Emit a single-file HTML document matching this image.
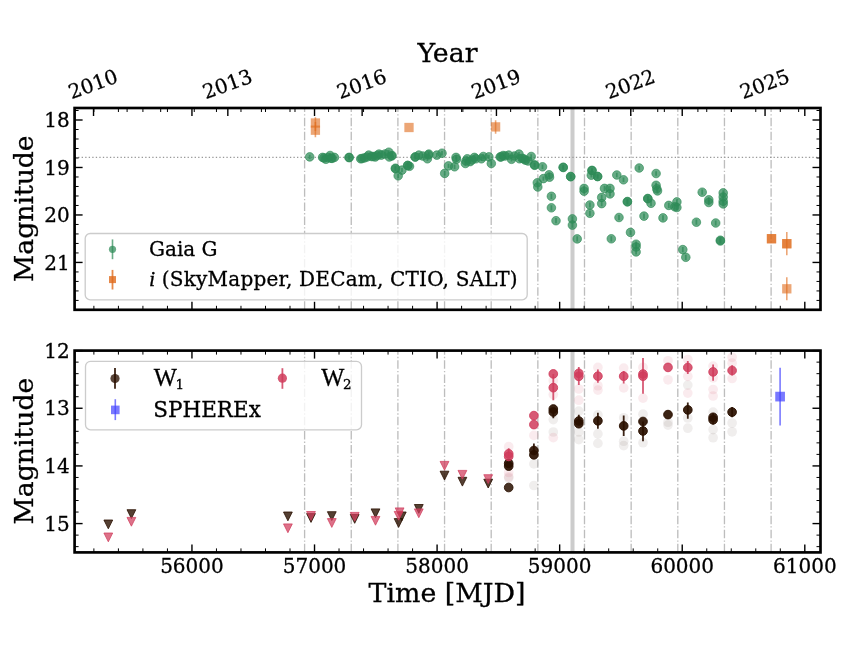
<!DOCTYPE html>
<html><head><meta charset="utf-8"><title>Light curve</title>
<style>html,body{margin:0;padding:0;background:#fff;}svg{display:block;will-change:transform;}text{stroke:#000;stroke-width:0.3px;}</style>
</head><body>
<svg width="850" height="650" viewBox="0 0 850 650">
<rect width="850" height="650" fill="#fff"/>
<clipPath id="ct"><rect x="74.6" y="108" width="745.9" height="201.8"/></clipPath>
<clipPath id="cb"><rect x="74.6" y="350.6" width="745.9" height="201.8"/></clipPath>
<g clip-path="url(#ct)">
<line x1="304.6" y1="309.8" x2="304.6" y2="108" stroke="#bdbdbd" stroke-width="1.33" stroke-dasharray="8.53 2.13 1.33 2.13"/>
<line x1="351.25" y1="309.8" x2="351.25" y2="108" stroke="#bdbdbd" stroke-width="1.33" stroke-dasharray="8.53 2.13 1.33 2.13"/>
<line x1="397.9" y1="309.8" x2="397.9" y2="108" stroke="#bdbdbd" stroke-width="1.33" stroke-dasharray="8.53 2.13 1.33 2.13"/>
<line x1="444.55" y1="309.8" x2="444.55" y2="108" stroke="#bdbdbd" stroke-width="1.33" stroke-dasharray="8.53 2.13 1.33 2.13"/>
<line x1="491.2" y1="309.8" x2="491.2" y2="108" stroke="#bdbdbd" stroke-width="1.33" stroke-dasharray="8.53 2.13 1.33 2.13"/>
<line x1="537.85" y1="309.8" x2="537.85" y2="108" stroke="#bdbdbd" stroke-width="1.33" stroke-dasharray="8.53 2.13 1.33 2.13"/>
<line x1="584.5" y1="309.8" x2="584.5" y2="108" stroke="#bdbdbd" stroke-width="1.33" stroke-dasharray="8.53 2.13 1.33 2.13"/>
<line x1="631.15" y1="309.8" x2="631.15" y2="108" stroke="#bdbdbd" stroke-width="1.33" stroke-dasharray="8.53 2.13 1.33 2.13"/>
<line x1="677.8" y1="309.8" x2="677.8" y2="108" stroke="#bdbdbd" stroke-width="1.33" stroke-dasharray="8.53 2.13 1.33 2.13"/>
<line x1="724.45" y1="309.8" x2="724.45" y2="108" stroke="#bdbdbd" stroke-width="1.33" stroke-dasharray="8.53 2.13 1.33 2.13"/>
<line x1="771.1" y1="309.8" x2="771.1" y2="108" stroke="#bdbdbd" stroke-width="1.33" stroke-dasharray="8.53 2.13 1.33 2.13"/>
<rect x="570.5" y="108" width="4" height="201.8" fill="#cccccc"/>
<line x1="74.6" y1="157.3" x2="820.5" y2="157.3" stroke="#999" stroke-width="1.33" stroke-dasharray="1.33 2.2"/>
<line x1="309.7" y1="154.7" x2="309.7" y2="159.1" stroke="#2e8b57" stroke-opacity="0.72" stroke-width="1.8"/>
<circle cx="309.7" cy="156.9" r="4.3" fill="#2e8b57" fill-opacity="0.72" stroke="#2e8b57" stroke-opacity="0.72" stroke-width="0.9"/>
<line x1="324" y1="155.8" x2="324" y2="160.2" stroke="#2e8b57" stroke-opacity="0.72" stroke-width="1.8"/>
<circle cx="324" cy="158" r="4.3" fill="#2e8b57" fill-opacity="0.72" stroke="#2e8b57" stroke-opacity="0.72" stroke-width="0.9"/>
<line x1="328" y1="155.3" x2="328" y2="159.7" stroke="#2e8b57" stroke-opacity="0.72" stroke-width="1.8"/>
<circle cx="328" cy="157.5" r="4.3" fill="#2e8b57" fill-opacity="0.72" stroke="#2e8b57" stroke-opacity="0.72" stroke-width="0.9"/>
<line x1="331" y1="156" x2="331" y2="160.4" stroke="#2e8b57" stroke-opacity="0.72" stroke-width="1.8"/>
<circle cx="331" cy="158.2" r="4.3" fill="#2e8b57" fill-opacity="0.72" stroke="#2e8b57" stroke-opacity="0.72" stroke-width="0.9"/>
<line x1="362" y1="156.3" x2="362" y2="160.7" stroke="#2e8b57" stroke-opacity="0.72" stroke-width="1.8"/>
<circle cx="362" cy="158.5" r="4.3" fill="#2e8b57" fill-opacity="0.72" stroke="#2e8b57" stroke-opacity="0.72" stroke-width="0.9"/>
<line x1="367" y1="154.8" x2="367" y2="159.2" stroke="#2e8b57" stroke-opacity="0.72" stroke-width="1.8"/>
<circle cx="367" cy="157" r="4.3" fill="#2e8b57" fill-opacity="0.72" stroke="#2e8b57" stroke-opacity="0.72" stroke-width="0.9"/>
<line x1="373" y1="154.3" x2="373" y2="158.7" stroke="#2e8b57" stroke-opacity="0.72" stroke-width="1.8"/>
<circle cx="373" cy="156.5" r="4.3" fill="#2e8b57" fill-opacity="0.72" stroke="#2e8b57" stroke-opacity="0.72" stroke-width="0.9"/>
<line x1="377" y1="153.3" x2="377" y2="157.7" stroke="#2e8b57" stroke-opacity="0.72" stroke-width="1.8"/>
<circle cx="377" cy="155.5" r="4.3" fill="#2e8b57" fill-opacity="0.72" stroke="#2e8b57" stroke-opacity="0.72" stroke-width="0.9"/>
<line x1="385" y1="151.8" x2="385" y2="156.2" stroke="#2e8b57" stroke-opacity="0.72" stroke-width="1.8"/>
<circle cx="385" cy="154" r="4.3" fill="#2e8b57" fill-opacity="0.72" stroke="#2e8b57" stroke-opacity="0.72" stroke-width="0.9"/>
<line x1="392" y1="153.3" x2="392" y2="157.7" stroke="#2e8b57" stroke-opacity="0.72" stroke-width="1.8"/>
<circle cx="392" cy="155.5" r="4.3" fill="#2e8b57" fill-opacity="0.72" stroke="#2e8b57" stroke-opacity="0.72" stroke-width="0.9"/>
<line x1="395.5" y1="166.6" x2="395.5" y2="171" stroke="#2e8b57" stroke-opacity="0.72" stroke-width="1.8"/>
<circle cx="395.5" cy="168.8" r="4.3" fill="#2e8b57" fill-opacity="0.72" stroke="#2e8b57" stroke-opacity="0.72" stroke-width="0.9"/>
<line x1="407.9" y1="163.3" x2="407.9" y2="167.7" stroke="#2e8b57" stroke-opacity="0.72" stroke-width="1.8"/>
<circle cx="407.9" cy="165.5" r="4.3" fill="#2e8b57" fill-opacity="0.72" stroke="#2e8b57" stroke-opacity="0.72" stroke-width="0.9"/>
<line x1="415.3" y1="154.8" x2="415.3" y2="159.2" stroke="#2e8b57" stroke-opacity="0.72" stroke-width="1.8"/>
<circle cx="415.3" cy="157" r="4.3" fill="#2e8b57" fill-opacity="0.72" stroke="#2e8b57" stroke-opacity="0.72" stroke-width="0.9"/>
<line x1="428.5" y1="152.8" x2="428.5" y2="157.2" stroke="#2e8b57" stroke-opacity="0.72" stroke-width="1.8"/>
<circle cx="428.5" cy="155" r="4.3" fill="#2e8b57" fill-opacity="0.72" stroke="#2e8b57" stroke-opacity="0.72" stroke-width="0.9"/>
<line x1="466" y1="158.8" x2="466" y2="163.2" stroke="#2e8b57" stroke-opacity="0.72" stroke-width="1.8"/>
<circle cx="466" cy="161" r="4.3" fill="#2e8b57" fill-opacity="0.72" stroke="#2e8b57" stroke-opacity="0.72" stroke-width="0.9"/>
<line x1="472" y1="157.8" x2="472" y2="162.2" stroke="#2e8b57" stroke-opacity="0.72" stroke-width="1.8"/>
<circle cx="472" cy="160" r="4.3" fill="#2e8b57" fill-opacity="0.72" stroke="#2e8b57" stroke-opacity="0.72" stroke-width="0.9"/>
<line x1="501" y1="154.8" x2="501" y2="159.2" stroke="#2e8b57" stroke-opacity="0.72" stroke-width="1.8"/>
<circle cx="501" cy="157" r="4.3" fill="#2e8b57" fill-opacity="0.72" stroke="#2e8b57" stroke-opacity="0.72" stroke-width="0.9"/>
<line x1="505" y1="153.8" x2="505" y2="158.2" stroke="#2e8b57" stroke-opacity="0.72" stroke-width="1.8"/>
<circle cx="505" cy="156" r="4.3" fill="#2e8b57" fill-opacity="0.72" stroke="#2e8b57" stroke-opacity="0.72" stroke-width="0.9"/>
<line x1="524" y1="156.8" x2="524" y2="161.2" stroke="#2e8b57" stroke-opacity="0.72" stroke-width="1.8"/>
<circle cx="524" cy="159" r="4.3" fill="#2e8b57" fill-opacity="0.72" stroke="#2e8b57" stroke-opacity="0.72" stroke-width="0.9"/>
<line x1="528" y1="158.8" x2="528" y2="163.2" stroke="#2e8b57" stroke-opacity="0.72" stroke-width="1.8"/>
<circle cx="528" cy="161" r="4.3" fill="#2e8b57" fill-opacity="0.72" stroke="#2e8b57" stroke-opacity="0.72" stroke-width="0.9"/>
<line x1="322.6" y1="155.2" x2="322.6" y2="159.6" stroke="#2e8b57" stroke-opacity="0.72" stroke-width="1.8"/>
<circle cx="322.6" cy="157.4" r="4.3" fill="#2e8b57" fill-opacity="0.72" stroke="#2e8b57" stroke-opacity="0.72" stroke-width="0.9"/>
<line x1="325.9" y1="157.1" x2="325.9" y2="161.5" stroke="#2e8b57" stroke-opacity="0.72" stroke-width="1.8"/>
<circle cx="325.9" cy="159.3" r="4.3" fill="#2e8b57" fill-opacity="0.72" stroke="#2e8b57" stroke-opacity="0.72" stroke-width="0.9"/>
<line x1="330.1" y1="153.3" x2="330.1" y2="157.7" stroke="#2e8b57" stroke-opacity="0.72" stroke-width="1.8"/>
<circle cx="330.1" cy="155.5" r="4.3" fill="#2e8b57" fill-opacity="0.72" stroke="#2e8b57" stroke-opacity="0.72" stroke-width="0.9"/>
<line x1="332" y1="156.2" x2="332" y2="160.6" stroke="#2e8b57" stroke-opacity="0.72" stroke-width="1.8"/>
<circle cx="332" cy="158.4" r="4.3" fill="#2e8b57" fill-opacity="0.72" stroke="#2e8b57" stroke-opacity="0.72" stroke-width="0.9"/>
<line x1="334.4" y1="155.2" x2="334.4" y2="159.6" stroke="#2e8b57" stroke-opacity="0.72" stroke-width="1.8"/>
<circle cx="334.4" cy="157.4" r="4.3" fill="#2e8b57" fill-opacity="0.72" stroke="#2e8b57" stroke-opacity="0.72" stroke-width="0.9"/>
<line x1="349.1" y1="155.2" x2="349.1" y2="159.6" stroke="#2e8b57" stroke-opacity="0.72" stroke-width="1.8"/>
<circle cx="349.1" cy="157.4" r="4.3" fill="#2e8b57" fill-opacity="0.72" stroke="#2e8b57" stroke-opacity="0.72" stroke-width="0.9"/>
<line x1="349.1" y1="155.4" x2="349.1" y2="159.8" stroke="#2e8b57" stroke-opacity="0.72" stroke-width="1.8"/>
<circle cx="349.1" cy="157.6" r="4.3" fill="#2e8b57" fill-opacity="0.72" stroke="#2e8b57" stroke-opacity="0.72" stroke-width="0.9"/>
<line x1="360.7" y1="156.6" x2="360.7" y2="161" stroke="#2e8b57" stroke-opacity="0.72" stroke-width="1.8"/>
<circle cx="360.7" cy="158.8" r="4.3" fill="#2e8b57" fill-opacity="0.72" stroke="#2e8b57" stroke-opacity="0.72" stroke-width="0.9"/>
<line x1="364.5" y1="155.7" x2="364.5" y2="160.1" stroke="#2e8b57" stroke-opacity="0.72" stroke-width="1.8"/>
<circle cx="364.5" cy="157.9" r="4.3" fill="#2e8b57" fill-opacity="0.72" stroke="#2e8b57" stroke-opacity="0.72" stroke-width="0.9"/>
<line x1="368.7" y1="152.9" x2="368.7" y2="157.3" stroke="#2e8b57" stroke-opacity="0.72" stroke-width="1.8"/>
<circle cx="368.7" cy="155.1" r="4.3" fill="#2e8b57" fill-opacity="0.72" stroke="#2e8b57" stroke-opacity="0.72" stroke-width="0.9"/>
<line x1="371.5" y1="154.3" x2="371.5" y2="158.7" stroke="#2e8b57" stroke-opacity="0.72" stroke-width="1.8"/>
<circle cx="371.5" cy="156.5" r="4.3" fill="#2e8b57" fill-opacity="0.72" stroke="#2e8b57" stroke-opacity="0.72" stroke-width="0.9"/>
<line x1="375.3" y1="154.8" x2="375.3" y2="159.2" stroke="#2e8b57" stroke-opacity="0.72" stroke-width="1.8"/>
<circle cx="375.3" cy="157" r="4.3" fill="#2e8b57" fill-opacity="0.72" stroke="#2e8b57" stroke-opacity="0.72" stroke-width="0.9"/>
<line x1="379" y1="151.9" x2="379" y2="156.3" stroke="#2e8b57" stroke-opacity="0.72" stroke-width="1.8"/>
<circle cx="379" cy="154.1" r="4.3" fill="#2e8b57" fill-opacity="0.72" stroke="#2e8b57" stroke-opacity="0.72" stroke-width="0.9"/>
<line x1="381.3" y1="152.9" x2="381.3" y2="157.3" stroke="#2e8b57" stroke-opacity="0.72" stroke-width="1.8"/>
<circle cx="381.3" cy="155.1" r="4.3" fill="#2e8b57" fill-opacity="0.72" stroke="#2e8b57" stroke-opacity="0.72" stroke-width="0.9"/>
<line x1="388.8" y1="150" x2="388.8" y2="154.4" stroke="#2e8b57" stroke-opacity="0.72" stroke-width="1.8"/>
<circle cx="388.8" cy="152.2" r="4.3" fill="#2e8b57" fill-opacity="0.72" stroke="#2e8b57" stroke-opacity="0.72" stroke-width="0.9"/>
<line x1="389.3" y1="154.8" x2="389.3" y2="159.2" stroke="#2e8b57" stroke-opacity="0.72" stroke-width="1.8"/>
<circle cx="389.3" cy="157" r="4.3" fill="#2e8b57" fill-opacity="0.72" stroke="#2e8b57" stroke-opacity="0.72" stroke-width="0.9"/>
<line x1="391.6" y1="153.8" x2="391.6" y2="158.2" stroke="#2e8b57" stroke-opacity="0.72" stroke-width="1.8"/>
<circle cx="391.6" cy="156" r="4.3" fill="#2e8b57" fill-opacity="0.72" stroke="#2e8b57" stroke-opacity="0.72" stroke-width="0.9"/>
<line x1="395.4" y1="166" x2="395.4" y2="170.4" stroke="#2e8b57" stroke-opacity="0.72" stroke-width="1.8"/>
<circle cx="395.4" cy="168.2" r="4.3" fill="#2e8b57" fill-opacity="0.72" stroke="#2e8b57" stroke-opacity="0.72" stroke-width="0.9"/>
<line x1="398.2" y1="173.6" x2="398.2" y2="178" stroke="#2e8b57" stroke-opacity="0.72" stroke-width="1.8"/>
<circle cx="398.2" cy="175.8" r="4.3" fill="#2e8b57" fill-opacity="0.72" stroke="#2e8b57" stroke-opacity="0.72" stroke-width="0.9"/>
<line x1="402" y1="167.9" x2="402" y2="172.3" stroke="#2e8b57" stroke-opacity="0.72" stroke-width="1.8"/>
<circle cx="402" cy="170.1" r="4.3" fill="#2e8b57" fill-opacity="0.72" stroke="#2e8b57" stroke-opacity="0.72" stroke-width="0.9"/>
<line x1="407.6" y1="163.2" x2="407.6" y2="167.6" stroke="#2e8b57" stroke-opacity="0.72" stroke-width="1.8"/>
<circle cx="407.6" cy="165.4" r="4.3" fill="#2e8b57" fill-opacity="0.72" stroke="#2e8b57" stroke-opacity="0.72" stroke-width="0.9"/>
<line x1="409.5" y1="164.1" x2="409.5" y2="168.5" stroke="#2e8b57" stroke-opacity="0.72" stroke-width="1.8"/>
<circle cx="409.5" cy="166.3" r="4.3" fill="#2e8b57" fill-opacity="0.72" stroke="#2e8b57" stroke-opacity="0.72" stroke-width="0.9"/>
<line x1="415.2" y1="154.8" x2="415.2" y2="159.2" stroke="#2e8b57" stroke-opacity="0.72" stroke-width="1.8"/>
<circle cx="415.2" cy="157" r="4.3" fill="#2e8b57" fill-opacity="0.72" stroke="#2e8b57" stroke-opacity="0.72" stroke-width="0.9"/>
<line x1="418.9" y1="152.9" x2="418.9" y2="157.3" stroke="#2e8b57" stroke-opacity="0.72" stroke-width="1.8"/>
<circle cx="418.9" cy="155.1" r="4.3" fill="#2e8b57" fill-opacity="0.72" stroke="#2e8b57" stroke-opacity="0.72" stroke-width="0.9"/>
<line x1="422.7" y1="153.8" x2="422.7" y2="158.2" stroke="#2e8b57" stroke-opacity="0.72" stroke-width="1.8"/>
<circle cx="422.7" cy="156" r="4.3" fill="#2e8b57" fill-opacity="0.72" stroke="#2e8b57" stroke-opacity="0.72" stroke-width="0.9"/>
<line x1="427.4" y1="156.6" x2="427.4" y2="161" stroke="#2e8b57" stroke-opacity="0.72" stroke-width="1.8"/>
<circle cx="427.4" cy="158.8" r="4.3" fill="#2e8b57" fill-opacity="0.72" stroke="#2e8b57" stroke-opacity="0.72" stroke-width="0.9"/>
<line x1="428.8" y1="151.9" x2="428.8" y2="156.3" stroke="#2e8b57" stroke-opacity="0.72" stroke-width="1.8"/>
<circle cx="428.8" cy="154.1" r="4.3" fill="#2e8b57" fill-opacity="0.72" stroke="#2e8b57" stroke-opacity="0.72" stroke-width="0.9"/>
<line x1="436.8" y1="152.9" x2="436.8" y2="157.3" stroke="#2e8b57" stroke-opacity="0.72" stroke-width="1.8"/>
<circle cx="436.8" cy="155.1" r="4.3" fill="#2e8b57" fill-opacity="0.72" stroke="#2e8b57" stroke-opacity="0.72" stroke-width="0.9"/>
<line x1="442" y1="151" x2="442" y2="155.4" stroke="#2e8b57" stroke-opacity="0.72" stroke-width="1.8"/>
<circle cx="442" cy="153.2" r="4.3" fill="#2e8b57" fill-opacity="0.72" stroke="#2e8b57" stroke-opacity="0.72" stroke-width="0.9"/>
<line x1="444.7" y1="171.2" x2="444.7" y2="175.6" stroke="#2e8b57" stroke-opacity="0.72" stroke-width="1.8"/>
<circle cx="444.7" cy="173.4" r="4.3" fill="#2e8b57" fill-opacity="0.72" stroke="#2e8b57" stroke-opacity="0.72" stroke-width="0.9"/>
<line x1="448.5" y1="163.7" x2="448.5" y2="168.1" stroke="#2e8b57" stroke-opacity="0.72" stroke-width="1.8"/>
<circle cx="448.5" cy="165.9" r="4.3" fill="#2e8b57" fill-opacity="0.72" stroke="#2e8b57" stroke-opacity="0.72" stroke-width="0.9"/>
<line x1="454.6" y1="164.6" x2="454.6" y2="169" stroke="#2e8b57" stroke-opacity="0.72" stroke-width="1.8"/>
<circle cx="454.6" cy="166.8" r="4.3" fill="#2e8b57" fill-opacity="0.72" stroke="#2e8b57" stroke-opacity="0.72" stroke-width="0.9"/>
<line x1="456" y1="155.2" x2="456" y2="159.6" stroke="#2e8b57" stroke-opacity="0.72" stroke-width="1.8"/>
<circle cx="456" cy="157.4" r="4.3" fill="#2e8b57" fill-opacity="0.72" stroke="#2e8b57" stroke-opacity="0.72" stroke-width="0.9"/>
<line x1="456.5" y1="157.1" x2="456.5" y2="161.5" stroke="#2e8b57" stroke-opacity="0.72" stroke-width="1.8"/>
<circle cx="456.5" cy="159.3" r="4.3" fill="#2e8b57" fill-opacity="0.72" stroke="#2e8b57" stroke-opacity="0.72" stroke-width="0.9"/>
<line x1="465.4" y1="161.3" x2="465.4" y2="165.7" stroke="#2e8b57" stroke-opacity="0.72" stroke-width="1.8"/>
<circle cx="465.4" cy="163.5" r="4.3" fill="#2e8b57" fill-opacity="0.72" stroke="#2e8b57" stroke-opacity="0.72" stroke-width="0.9"/>
<line x1="467.3" y1="156.6" x2="467.3" y2="161" stroke="#2e8b57" stroke-opacity="0.72" stroke-width="1.8"/>
<circle cx="467.3" cy="158.8" r="4.3" fill="#2e8b57" fill-opacity="0.72" stroke="#2e8b57" stroke-opacity="0.72" stroke-width="0.9"/>
<line x1="470.1" y1="159.4" x2="470.1" y2="163.8" stroke="#2e8b57" stroke-opacity="0.72" stroke-width="1.8"/>
<circle cx="470.1" cy="161.6" r="4.3" fill="#2e8b57" fill-opacity="0.72" stroke="#2e8b57" stroke-opacity="0.72" stroke-width="0.9"/>
<line x1="474.4" y1="155.2" x2="474.4" y2="159.6" stroke="#2e8b57" stroke-opacity="0.72" stroke-width="1.8"/>
<circle cx="474.4" cy="157.4" r="4.3" fill="#2e8b57" fill-opacity="0.72" stroke="#2e8b57" stroke-opacity="0.72" stroke-width="0.9"/>
<line x1="475.8" y1="156.6" x2="475.8" y2="161" stroke="#2e8b57" stroke-opacity="0.72" stroke-width="1.8"/>
<circle cx="475.8" cy="158.8" r="4.3" fill="#2e8b57" fill-opacity="0.72" stroke="#2e8b57" stroke-opacity="0.72" stroke-width="0.9"/>
<line x1="481.4" y1="156.6" x2="481.4" y2="161" stroke="#2e8b57" stroke-opacity="0.72" stroke-width="1.8"/>
<circle cx="481.4" cy="158.8" r="4.3" fill="#2e8b57" fill-opacity="0.72" stroke="#2e8b57" stroke-opacity="0.72" stroke-width="0.9"/>
<line x1="483.3" y1="154.3" x2="483.3" y2="158.7" stroke="#2e8b57" stroke-opacity="0.72" stroke-width="1.8"/>
<circle cx="483.3" cy="156.5" r="4.3" fill="#2e8b57" fill-opacity="0.72" stroke="#2e8b57" stroke-opacity="0.72" stroke-width="0.9"/>
<line x1="488.9" y1="154.7" x2="488.9" y2="159.1" stroke="#2e8b57" stroke-opacity="0.72" stroke-width="1.8"/>
<circle cx="488.9" cy="156.9" r="4.3" fill="#2e8b57" fill-opacity="0.72" stroke="#2e8b57" stroke-opacity="0.72" stroke-width="0.9"/>
<line x1="491.3" y1="161.3" x2="491.3" y2="165.7" stroke="#2e8b57" stroke-opacity="0.72" stroke-width="1.8"/>
<circle cx="491.3" cy="163.5" r="4.3" fill="#2e8b57" fill-opacity="0.72" stroke="#2e8b57" stroke-opacity="0.72" stroke-width="0.9"/>
<line x1="500.2" y1="154.7" x2="500.2" y2="159.1" stroke="#2e8b57" stroke-opacity="0.72" stroke-width="1.8"/>
<circle cx="500.2" cy="156.9" r="4.3" fill="#2e8b57" fill-opacity="0.72" stroke="#2e8b57" stroke-opacity="0.72" stroke-width="0.9"/>
<line x1="503.1" y1="153.3" x2="503.1" y2="157.7" stroke="#2e8b57" stroke-opacity="0.72" stroke-width="1.8"/>
<circle cx="503.1" cy="155.5" r="4.3" fill="#2e8b57" fill-opacity="0.72" stroke="#2e8b57" stroke-opacity="0.72" stroke-width="0.9"/>
<line x1="508.7" y1="152.9" x2="508.7" y2="157.3" stroke="#2e8b57" stroke-opacity="0.72" stroke-width="1.8"/>
<circle cx="508.7" cy="155.1" r="4.3" fill="#2e8b57" fill-opacity="0.72" stroke="#2e8b57" stroke-opacity="0.72" stroke-width="0.9"/>
<line x1="511.5" y1="157.1" x2="511.5" y2="161.5" stroke="#2e8b57" stroke-opacity="0.72" stroke-width="1.8"/>
<circle cx="511.5" cy="159.3" r="4.3" fill="#2e8b57" fill-opacity="0.72" stroke="#2e8b57" stroke-opacity="0.72" stroke-width="0.9"/>
<line x1="514.4" y1="153.8" x2="514.4" y2="158.2" stroke="#2e8b57" stroke-opacity="0.72" stroke-width="1.8"/>
<circle cx="514.4" cy="156" r="4.3" fill="#2e8b57" fill-opacity="0.72" stroke="#2e8b57" stroke-opacity="0.72" stroke-width="0.9"/>
<line x1="519" y1="151.9" x2="519" y2="156.3" stroke="#2e8b57" stroke-opacity="0.72" stroke-width="1.8"/>
<circle cx="519" cy="154.1" r="4.3" fill="#2e8b57" fill-opacity="0.72" stroke="#2e8b57" stroke-opacity="0.72" stroke-width="0.9"/>
<line x1="519.5" y1="156.6" x2="519.5" y2="161" stroke="#2e8b57" stroke-opacity="0.72" stroke-width="1.8"/>
<circle cx="519.5" cy="158.8" r="4.3" fill="#2e8b57" fill-opacity="0.72" stroke="#2e8b57" stroke-opacity="0.72" stroke-width="0.9"/>
<line x1="522.2" y1="156.2" x2="522.2" y2="160.6" stroke="#2e8b57" stroke-opacity="0.72" stroke-width="1.8"/>
<circle cx="522.2" cy="158.4" r="4.3" fill="#2e8b57" fill-opacity="0.72" stroke="#2e8b57" stroke-opacity="0.72" stroke-width="0.9"/>
<line x1="525.5" y1="158" x2="525.5" y2="162.4" stroke="#2e8b57" stroke-opacity="0.72" stroke-width="1.8"/>
<circle cx="525.5" cy="160.2" r="4.3" fill="#2e8b57" fill-opacity="0.72" stroke="#2e8b57" stroke-opacity="0.72" stroke-width="0.9"/>
<line x1="531.2" y1="154.3" x2="531.2" y2="158.7" stroke="#2e8b57" stroke-opacity="0.72" stroke-width="1.8"/>
<circle cx="531.2" cy="156.5" r="4.3" fill="#2e8b57" fill-opacity="0.72" stroke="#2e8b57" stroke-opacity="0.72" stroke-width="0.9"/>
<line x1="534.5" y1="162.7" x2="534.5" y2="167.1" stroke="#2e8b57" stroke-opacity="0.72" stroke-width="1.8"/>
<circle cx="534.5" cy="164.9" r="4.3" fill="#2e8b57" fill-opacity="0.72" stroke="#2e8b57" stroke-opacity="0.72" stroke-width="0.9"/>
<line x1="534.7" y1="163.1" x2="534.7" y2="167.5" stroke="#2e8b57" stroke-opacity="0.72" stroke-width="1.8"/>
<circle cx="534.7" cy="165.3" r="4.3" fill="#2e8b57" fill-opacity="0.72" stroke="#2e8b57" stroke-opacity="0.72" stroke-width="0.9"/>
<line x1="542.5" y1="164.6" x2="542.5" y2="169" stroke="#2e8b57" stroke-opacity="0.72" stroke-width="1.8"/>
<circle cx="542.5" cy="166.8" r="4.3" fill="#2e8b57" fill-opacity="0.72" stroke="#2e8b57" stroke-opacity="0.72" stroke-width="0.9"/>
<line x1="537.3" y1="180.6" x2="537.3" y2="185" stroke="#2e8b57" stroke-opacity="0.72" stroke-width="1.8"/>
<circle cx="537.3" cy="182.8" r="4.3" fill="#2e8b57" fill-opacity="0.72" stroke="#2e8b57" stroke-opacity="0.72" stroke-width="0.9"/>
<line x1="537.8" y1="184.4" x2="537.8" y2="189.6" stroke="#2e8b57" stroke-opacity="0.72" stroke-width="1.8"/>
<circle cx="537.8" cy="187" r="4.3" fill="#2e8b57" fill-opacity="0.72" stroke="#2e8b57" stroke-opacity="0.72" stroke-width="0.9"/>
<line x1="543.4" y1="176.4" x2="543.4" y2="180.8" stroke="#2e8b57" stroke-opacity="0.72" stroke-width="1.8"/>
<circle cx="543.4" cy="178.6" r="4.3" fill="#2e8b57" fill-opacity="0.72" stroke="#2e8b57" stroke-opacity="0.72" stroke-width="0.9"/>
<line x1="549.1" y1="172.6" x2="549.1" y2="177" stroke="#2e8b57" stroke-opacity="0.72" stroke-width="1.8"/>
<circle cx="549.1" cy="174.8" r="4.3" fill="#2e8b57" fill-opacity="0.72" stroke="#2e8b57" stroke-opacity="0.72" stroke-width="0.9"/>
<line x1="549.5" y1="175" x2="549.5" y2="179.4" stroke="#2e8b57" stroke-opacity="0.72" stroke-width="1.8"/>
<circle cx="549.5" cy="177.2" r="4.3" fill="#2e8b57" fill-opacity="0.72" stroke="#2e8b57" stroke-opacity="0.72" stroke-width="0.9"/>
<line x1="563.2" y1="165.1" x2="563.2" y2="169.5" stroke="#2e8b57" stroke-opacity="0.72" stroke-width="1.8"/>
<circle cx="563.2" cy="167.3" r="4.3" fill="#2e8b57" fill-opacity="0.72" stroke="#2e8b57" stroke-opacity="0.72" stroke-width="0.9"/>
<line x1="570.7" y1="174.5" x2="570.7" y2="178.9" stroke="#2e8b57" stroke-opacity="0.72" stroke-width="1.8"/>
<circle cx="570.7" cy="176.7" r="4.3" fill="#2e8b57" fill-opacity="0.72" stroke="#2e8b57" stroke-opacity="0.72" stroke-width="0.9"/>
<line x1="551.4" y1="193.7" x2="551.4" y2="198.9" stroke="#2e8b57" stroke-opacity="0.72" stroke-width="1.8"/>
<circle cx="551.4" cy="196.3" r="4.3" fill="#2e8b57" fill-opacity="0.72" stroke="#2e8b57" stroke-opacity="0.72" stroke-width="0.9"/>
<line x1="551.4" y1="205.2" x2="551.4" y2="210.4" stroke="#2e8b57" stroke-opacity="0.72" stroke-width="1.8"/>
<circle cx="551.4" cy="207.8" r="4.3" fill="#2e8b57" fill-opacity="0.72" stroke="#2e8b57" stroke-opacity="0.72" stroke-width="0.9"/>
<line x1="556" y1="218.1" x2="556" y2="223.3" stroke="#2e8b57" stroke-opacity="0.72" stroke-width="1.8"/>
<circle cx="556" cy="220.7" r="4.3" fill="#2e8b57" fill-opacity="0.72" stroke="#2e8b57" stroke-opacity="0.72" stroke-width="0.9"/>
<line x1="572.4" y1="216.3" x2="572.4" y2="221.5" stroke="#2e8b57" stroke-opacity="0.72" stroke-width="1.8"/>
<circle cx="572.4" cy="218.9" r="4.3" fill="#2e8b57" fill-opacity="0.72" stroke="#2e8b57" stroke-opacity="0.72" stroke-width="0.9"/>
<line x1="572.4" y1="222.5" x2="572.4" y2="227.7" stroke="#2e8b57" stroke-opacity="0.72" stroke-width="1.8"/>
<circle cx="572.4" cy="225.1" r="4.3" fill="#2e8b57" fill-opacity="0.72" stroke="#2e8b57" stroke-opacity="0.72" stroke-width="0.9"/>
<line x1="577.2" y1="236.3" x2="577.2" y2="241.5" stroke="#2e8b57" stroke-opacity="0.72" stroke-width="1.8"/>
<circle cx="577.2" cy="238.9" r="4.3" fill="#2e8b57" fill-opacity="0.72" stroke="#2e8b57" stroke-opacity="0.72" stroke-width="0.9"/>
<line x1="584.1" y1="185.8" x2="584.1" y2="191" stroke="#2e8b57" stroke-opacity="0.72" stroke-width="1.8"/>
<circle cx="584.1" cy="188.4" r="4.3" fill="#2e8b57" fill-opacity="0.72" stroke="#2e8b57" stroke-opacity="0.72" stroke-width="0.9"/>
<line x1="584.1" y1="188.6" x2="584.1" y2="193.8" stroke="#2e8b57" stroke-opacity="0.72" stroke-width="1.8"/>
<circle cx="584.1" cy="191.2" r="4.3" fill="#2e8b57" fill-opacity="0.72" stroke="#2e8b57" stroke-opacity="0.72" stroke-width="0.9"/>
<line x1="592" y1="168.2" x2="592" y2="172.6" stroke="#2e8b57" stroke-opacity="0.72" stroke-width="1.8"/>
<circle cx="592" cy="170.4" r="4.3" fill="#2e8b57" fill-opacity="0.72" stroke="#2e8b57" stroke-opacity="0.72" stroke-width="0.9"/>
<line x1="591.3" y1="173" x2="591.3" y2="177.4" stroke="#2e8b57" stroke-opacity="0.72" stroke-width="1.8"/>
<circle cx="591.3" cy="175.2" r="4.3" fill="#2e8b57" fill-opacity="0.72" stroke="#2e8b57" stroke-opacity="0.72" stroke-width="0.9"/>
<line x1="597.6" y1="174.4" x2="597.6" y2="178.8" stroke="#2e8b57" stroke-opacity="0.72" stroke-width="1.8"/>
<circle cx="597.6" cy="176.6" r="4.3" fill="#2e8b57" fill-opacity="0.72" stroke="#2e8b57" stroke-opacity="0.72" stroke-width="0.9"/>
<line x1="589.9" y1="202.4" x2="589.9" y2="207.6" stroke="#2e8b57" stroke-opacity="0.72" stroke-width="1.8"/>
<circle cx="589.9" cy="205" r="4.3" fill="#2e8b57" fill-opacity="0.72" stroke="#2e8b57" stroke-opacity="0.72" stroke-width="0.9"/>
<line x1="589.9" y1="210.7" x2="589.9" y2="215.9" stroke="#2e8b57" stroke-opacity="0.72" stroke-width="1.8"/>
<circle cx="589.9" cy="213.3" r="4.3" fill="#2e8b57" fill-opacity="0.72" stroke="#2e8b57" stroke-opacity="0.72" stroke-width="0.9"/>
<line x1="604.5" y1="185.8" x2="604.5" y2="191" stroke="#2e8b57" stroke-opacity="0.72" stroke-width="1.8"/>
<circle cx="604.5" cy="188.4" r="4.3" fill="#2e8b57" fill-opacity="0.72" stroke="#2e8b57" stroke-opacity="0.72" stroke-width="0.9"/>
<line x1="610" y1="185.8" x2="610" y2="191" stroke="#2e8b57" stroke-opacity="0.72" stroke-width="1.8"/>
<circle cx="610" cy="188.4" r="4.3" fill="#2e8b57" fill-opacity="0.72" stroke="#2e8b57" stroke-opacity="0.72" stroke-width="0.9"/>
<line x1="610" y1="191.3" x2="610" y2="196.5" stroke="#2e8b57" stroke-opacity="0.72" stroke-width="1.8"/>
<circle cx="610" cy="193.9" r="4.3" fill="#2e8b57" fill-opacity="0.72" stroke="#2e8b57" stroke-opacity="0.72" stroke-width="0.9"/>
<line x1="601.7" y1="194.8" x2="601.7" y2="200" stroke="#2e8b57" stroke-opacity="0.72" stroke-width="1.8"/>
<circle cx="601.7" cy="197.4" r="4.3" fill="#2e8b57" fill-opacity="0.72" stroke="#2e8b57" stroke-opacity="0.72" stroke-width="0.9"/>
<line x1="601.7" y1="201" x2="601.7" y2="206.2" stroke="#2e8b57" stroke-opacity="0.72" stroke-width="1.8"/>
<circle cx="601.7" cy="203.6" r="4.3" fill="#2e8b57" fill-opacity="0.72" stroke="#2e8b57" stroke-opacity="0.72" stroke-width="0.9"/>
<line x1="616.8" y1="172.8" x2="616.8" y2="177.2" stroke="#2e8b57" stroke-opacity="0.72" stroke-width="1.8"/>
<circle cx="616.8" cy="175" r="4.3" fill="#2e8b57" fill-opacity="0.72" stroke="#2e8b57" stroke-opacity="0.72" stroke-width="0.9"/>
<line x1="611.3" y1="236.2" x2="611.3" y2="241.4" stroke="#2e8b57" stroke-opacity="0.72" stroke-width="1.8"/>
<circle cx="611.3" cy="238.8" r="4.3" fill="#2e8b57" fill-opacity="0.72" stroke="#2e8b57" stroke-opacity="0.72" stroke-width="0.9"/>
<line x1="623.5" y1="177.6" x2="623.5" y2="182" stroke="#2e8b57" stroke-opacity="0.72" stroke-width="1.8"/>
<circle cx="623.5" cy="179.8" r="4.3" fill="#2e8b57" fill-opacity="0.72" stroke="#2e8b57" stroke-opacity="0.72" stroke-width="0.9"/>
<line x1="627.4" y1="198.9" x2="627.4" y2="204.1" stroke="#2e8b57" stroke-opacity="0.72" stroke-width="1.8"/>
<circle cx="627.4" cy="201.5" r="4.3" fill="#2e8b57" fill-opacity="0.72" stroke="#2e8b57" stroke-opacity="0.72" stroke-width="0.9"/>
<line x1="627.4" y1="199.3" x2="627.4" y2="204.5" stroke="#2e8b57" stroke-opacity="0.72" stroke-width="1.8"/>
<circle cx="627.4" cy="201.9" r="4.3" fill="#2e8b57" fill-opacity="0.72" stroke="#2e8b57" stroke-opacity="0.72" stroke-width="0.9"/>
<line x1="647.8" y1="196.1" x2="647.8" y2="201.3" stroke="#2e8b57" stroke-opacity="0.72" stroke-width="1.8"/>
<circle cx="647.8" cy="198.7" r="4.3" fill="#2e8b57" fill-opacity="0.72" stroke="#2e8b57" stroke-opacity="0.72" stroke-width="0.9"/>
<line x1="570.7" y1="174.3" x2="570.7" y2="178.7" stroke="#2e8b57" stroke-opacity="0.72" stroke-width="1.8"/>
<circle cx="570.7" cy="176.5" r="4.3" fill="#2e8b57" fill-opacity="0.72" stroke="#2e8b57" stroke-opacity="0.72" stroke-width="0.9"/>
<line x1="563.2" y1="165.3" x2="563.2" y2="169.7" stroke="#2e8b57" stroke-opacity="0.72" stroke-width="1.8"/>
<circle cx="563.2" cy="167.5" r="4.3" fill="#2e8b57" fill-opacity="0.72" stroke="#2e8b57" stroke-opacity="0.72" stroke-width="0.9"/>
<line x1="592" y1="168.4" x2="592" y2="172.8" stroke="#2e8b57" stroke-opacity="0.72" stroke-width="1.8"/>
<circle cx="592" cy="170.6" r="4.3" fill="#2e8b57" fill-opacity="0.72" stroke="#2e8b57" stroke-opacity="0.72" stroke-width="0.9"/>
<line x1="597.6" y1="174.2" x2="597.6" y2="178.6" stroke="#2e8b57" stroke-opacity="0.72" stroke-width="1.8"/>
<circle cx="597.6" cy="176.4" r="4.3" fill="#2e8b57" fill-opacity="0.72" stroke="#2e8b57" stroke-opacity="0.72" stroke-width="0.9"/>
<line x1="619" y1="214.9" x2="619" y2="220.1" stroke="#2e8b57" stroke-opacity="0.72" stroke-width="1.8"/>
<circle cx="619" cy="217.5" r="4.3" fill="#2e8b57" fill-opacity="0.72" stroke="#2e8b57" stroke-opacity="0.72" stroke-width="0.9"/>
<line x1="630.5" y1="229.8" x2="630.5" y2="235" stroke="#2e8b57" stroke-opacity="0.72" stroke-width="1.8"/>
<circle cx="630.5" cy="232.4" r="4.3" fill="#2e8b57" fill-opacity="0.72" stroke="#2e8b57" stroke-opacity="0.72" stroke-width="0.9"/>
<line x1="639.2" y1="165.8" x2="639.2" y2="170.2" stroke="#2e8b57" stroke-opacity="0.72" stroke-width="1.8"/>
<circle cx="639.2" cy="168" r="4.3" fill="#2e8b57" fill-opacity="0.72" stroke="#2e8b57" stroke-opacity="0.72" stroke-width="0.9"/>
<line x1="656.1" y1="171.3" x2="656.1" y2="175.7" stroke="#2e8b57" stroke-opacity="0.72" stroke-width="1.8"/>
<circle cx="656.1" cy="173.5" r="4.3" fill="#2e8b57" fill-opacity="0.72" stroke="#2e8b57" stroke-opacity="0.72" stroke-width="0.9"/>
<line x1="656.1" y1="182.7" x2="656.1" y2="187.9" stroke="#2e8b57" stroke-opacity="0.72" stroke-width="1.8"/>
<circle cx="656.1" cy="185.3" r="4.3" fill="#2e8b57" fill-opacity="0.72" stroke="#2e8b57" stroke-opacity="0.72" stroke-width="0.9"/>
<line x1="656.8" y1="186.2" x2="656.8" y2="191.4" stroke="#2e8b57" stroke-opacity="0.72" stroke-width="1.8"/>
<circle cx="656.8" cy="188.8" r="4.3" fill="#2e8b57" fill-opacity="0.72" stroke="#2e8b57" stroke-opacity="0.72" stroke-width="0.9"/>
<line x1="657.5" y1="188.3" x2="657.5" y2="193.5" stroke="#2e8b57" stroke-opacity="0.72" stroke-width="1.8"/>
<circle cx="657.5" cy="190.9" r="4.3" fill="#2e8b57" fill-opacity="0.72" stroke="#2e8b57" stroke-opacity="0.72" stroke-width="0.9"/>
<line x1="647.8" y1="195.9" x2="647.8" y2="201.1" stroke="#2e8b57" stroke-opacity="0.72" stroke-width="1.8"/>
<circle cx="647.8" cy="198.5" r="4.3" fill="#2e8b57" fill-opacity="0.72" stroke="#2e8b57" stroke-opacity="0.72" stroke-width="0.9"/>
<line x1="651" y1="200.7" x2="651" y2="205.9" stroke="#2e8b57" stroke-opacity="0.72" stroke-width="1.8"/>
<circle cx="651" cy="203.3" r="4.3" fill="#2e8b57" fill-opacity="0.72" stroke="#2e8b57" stroke-opacity="0.72" stroke-width="0.9"/>
<line x1="644" y1="213.5" x2="644" y2="218.7" stroke="#2e8b57" stroke-opacity="0.72" stroke-width="1.8"/>
<circle cx="644" cy="216.1" r="4.3" fill="#2e8b57" fill-opacity="0.72" stroke="#2e8b57" stroke-opacity="0.72" stroke-width="0.9"/>
<line x1="663" y1="215.3" x2="663" y2="220.5" stroke="#2e8b57" stroke-opacity="0.72" stroke-width="1.8"/>
<circle cx="663" cy="217.9" r="4.3" fill="#2e8b57" fill-opacity="0.72" stroke="#2e8b57" stroke-opacity="0.72" stroke-width="0.9"/>
<line x1="668.8" y1="202.8" x2="668.8" y2="208" stroke="#2e8b57" stroke-opacity="0.72" stroke-width="1.8"/>
<circle cx="668.8" cy="205.4" r="4.3" fill="#2e8b57" fill-opacity="0.72" stroke="#2e8b57" stroke-opacity="0.72" stroke-width="0.9"/>
<line x1="674.8" y1="204.2" x2="674.8" y2="209.4" stroke="#2e8b57" stroke-opacity="0.72" stroke-width="1.8"/>
<circle cx="674.8" cy="206.8" r="4.3" fill="#2e8b57" fill-opacity="0.72" stroke="#2e8b57" stroke-opacity="0.72" stroke-width="0.9"/>
<line x1="676.9" y1="199.3" x2="676.9" y2="204.5" stroke="#2e8b57" stroke-opacity="0.72" stroke-width="1.8"/>
<circle cx="676.9" cy="201.9" r="4.3" fill="#2e8b57" fill-opacity="0.72" stroke="#2e8b57" stroke-opacity="0.72" stroke-width="0.9"/>
<line x1="676.9" y1="204.9" x2="676.9" y2="210.1" stroke="#2e8b57" stroke-opacity="0.72" stroke-width="1.8"/>
<circle cx="676.9" cy="207.5" r="4.3" fill="#2e8b57" fill-opacity="0.72" stroke="#2e8b57" stroke-opacity="0.72" stroke-width="0.9"/>
<line x1="696.4" y1="219.6" x2="696.4" y2="224.8" stroke="#2e8b57" stroke-opacity="0.72" stroke-width="1.8"/>
<circle cx="696.4" cy="222.2" r="4.3" fill="#2e8b57" fill-opacity="0.72" stroke="#2e8b57" stroke-opacity="0.72" stroke-width="0.9"/>
<line x1="702.2" y1="189.6" x2="702.2" y2="194.8" stroke="#2e8b57" stroke-opacity="0.72" stroke-width="1.8"/>
<circle cx="702.2" cy="192.2" r="4.3" fill="#2e8b57" fill-opacity="0.72" stroke="#2e8b57" stroke-opacity="0.72" stroke-width="0.9"/>
<line x1="708.8" y1="197.2" x2="708.8" y2="202.4" stroke="#2e8b57" stroke-opacity="0.72" stroke-width="1.8"/>
<circle cx="708.8" cy="199.8" r="4.3" fill="#2e8b57" fill-opacity="0.72" stroke="#2e8b57" stroke-opacity="0.72" stroke-width="0.9"/>
<line x1="708.8" y1="199.9" x2="708.8" y2="205.1" stroke="#2e8b57" stroke-opacity="0.72" stroke-width="1.8"/>
<circle cx="708.8" cy="202.5" r="4.3" fill="#2e8b57" fill-opacity="0.72" stroke="#2e8b57" stroke-opacity="0.72" stroke-width="0.9"/>
<line x1="723.2" y1="190.3" x2="723.2" y2="195.5" stroke="#2e8b57" stroke-opacity="0.72" stroke-width="1.8"/>
<circle cx="723.2" cy="192.9" r="4.3" fill="#2e8b57" fill-opacity="0.72" stroke="#2e8b57" stroke-opacity="0.72" stroke-width="0.9"/>
<line x1="723.2" y1="194.4" x2="723.2" y2="199.6" stroke="#2e8b57" stroke-opacity="0.72" stroke-width="1.8"/>
<circle cx="723.2" cy="197" r="4.3" fill="#2e8b57" fill-opacity="0.72" stroke="#2e8b57" stroke-opacity="0.72" stroke-width="0.9"/>
<line x1="723.2" y1="198.6" x2="723.2" y2="203.8" stroke="#2e8b57" stroke-opacity="0.72" stroke-width="1.8"/>
<circle cx="723.2" cy="201.2" r="4.3" fill="#2e8b57" fill-opacity="0.72" stroke="#2e8b57" stroke-opacity="0.72" stroke-width="0.9"/>
<line x1="723.2" y1="201.3" x2="723.2" y2="206.5" stroke="#2e8b57" stroke-opacity="0.72" stroke-width="1.8"/>
<circle cx="723.2" cy="203.9" r="4.3" fill="#2e8b57" fill-opacity="0.72" stroke="#2e8b57" stroke-opacity="0.72" stroke-width="0.9"/>
<line x1="715.7" y1="220.4" x2="715.7" y2="225.6" stroke="#2e8b57" stroke-opacity="0.72" stroke-width="1.8"/>
<circle cx="715.7" cy="223" r="4.3" fill="#2e8b57" fill-opacity="0.72" stroke="#2e8b57" stroke-opacity="0.72" stroke-width="0.9"/>
<line x1="720.4" y1="237.6" x2="720.4" y2="242.8" stroke="#2e8b57" stroke-opacity="0.72" stroke-width="1.8"/>
<circle cx="720.4" cy="240.2" r="4.3" fill="#2e8b57" fill-opacity="0.72" stroke="#2e8b57" stroke-opacity="0.72" stroke-width="0.9"/>
<line x1="720.4" y1="238.4" x2="720.4" y2="243.6" stroke="#2e8b57" stroke-opacity="0.72" stroke-width="1.8"/>
<circle cx="720.4" cy="241" r="4.3" fill="#2e8b57" fill-opacity="0.72" stroke="#2e8b57" stroke-opacity="0.72" stroke-width="0.9"/>
<line x1="682.8" y1="247" x2="682.8" y2="252.2" stroke="#2e8b57" stroke-opacity="0.72" stroke-width="1.8"/>
<circle cx="682.8" cy="249.6" r="4.3" fill="#2e8b57" fill-opacity="0.72" stroke="#2e8b57" stroke-opacity="0.72" stroke-width="0.9"/>
<line x1="685.8" y1="254.7" x2="685.8" y2="259.9" stroke="#2e8b57" stroke-opacity="0.72" stroke-width="1.8"/>
<circle cx="685.8" cy="257.3" r="4.3" fill="#2e8b57" fill-opacity="0.72" stroke="#2e8b57" stroke-opacity="0.72" stroke-width="0.9"/>
<line x1="636.1" y1="241.6" x2="636.1" y2="246.8" stroke="#2e8b57" stroke-opacity="0.72" stroke-width="1.8"/>
<circle cx="636.1" cy="244.2" r="4.3" fill="#2e8b57" fill-opacity="0.72" stroke="#2e8b57" stroke-opacity="0.72" stroke-width="0.9"/>
<line x1="636.1" y1="244.4" x2="636.1" y2="249.6" stroke="#2e8b57" stroke-opacity="0.72" stroke-width="1.8"/>
<circle cx="636.1" cy="247" r="4.3" fill="#2e8b57" fill-opacity="0.72" stroke="#2e8b57" stroke-opacity="0.72" stroke-width="0.9"/>
<line x1="636.1" y1="249.3" x2="636.1" y2="254.5" stroke="#2e8b57" stroke-opacity="0.72" stroke-width="1.8"/>
<circle cx="636.1" cy="251.9" r="4.3" fill="#2e8b57" fill-opacity="0.72" stroke="#2e8b57" stroke-opacity="0.72" stroke-width="0.9"/>
<line x1="315.4" y1="117.2" x2="315.4" y2="131" stroke="#e06a1b" stroke-opacity="0.6" stroke-width="1.6"/>
<rect x="310.75" y="118.35" width="9.3" height="9.3" fill="#e06a1b" fill-opacity="0.6"/>
<line x1="315.4" y1="122" x2="315.4" y2="137.2" stroke="#e06a1b" stroke-opacity="0.6" stroke-width="1.6"/>
<rect x="310.75" y="125.55" width="9.3" height="9.3" fill="#e06a1b" fill-opacity="0.6"/>
<rect x="404.35" y="122.85" width="9.3" height="9.3" fill="#e06a1b" fill-opacity="0.6"/>
<line x1="495.6" y1="120.3" x2="495.6" y2="133.7" stroke="#e06a1b" stroke-opacity="0.6" stroke-width="1.6"/>
<rect x="490.95" y="122.25" width="9.3" height="9.3" fill="#e06a1b" fill-opacity="0.6"/>
<rect x="766.85" y="234.05" width="9.3" height="9.3" fill="#e06a1b" fill-opacity="0.6"/>
<rect x="766.85" y="234.05" width="9.3" height="9.3" fill="#e06a1b" fill-opacity="0.6"/>
<line x1="786.8" y1="232.1" x2="786.8" y2="255.2" stroke="#e06a1b" stroke-opacity="0.6" stroke-width="1.6"/>
<rect x="782.15" y="239.05" width="9.3" height="9.3" fill="#e06a1b" fill-opacity="0.6"/>
<rect x="782.15" y="239.05" width="9.3" height="9.3" fill="#e06a1b" fill-opacity="0.6"/>
<line x1="786.8" y1="277.3" x2="786.8" y2="300.3" stroke="#e06a1b" stroke-opacity="0.6" stroke-width="1.6"/>
<rect x="782.15" y="284.15" width="9.3" height="9.3" fill="#e06a1b" fill-opacity="0.6"/>
</g>
<line x1="93.89" y1="309.8" x2="93.89" y2="305.8" stroke="#000" stroke-width="1.0"/>
<line x1="93.89" y1="108" x2="93.89" y2="112" stroke="#000" stroke-width="1.0"/>
<line x1="118.41" y1="309.8" x2="118.41" y2="305.8" stroke="#000" stroke-width="1.0"/>
<line x1="118.41" y1="108" x2="118.41" y2="112" stroke="#000" stroke-width="1.0"/>
<line x1="142.92" y1="309.8" x2="142.92" y2="305.8" stroke="#000" stroke-width="1.0"/>
<line x1="142.92" y1="108" x2="142.92" y2="112" stroke="#000" stroke-width="1.0"/>
<line x1="167.44" y1="309.8" x2="167.44" y2="305.8" stroke="#000" stroke-width="1.0"/>
<line x1="167.44" y1="108" x2="167.44" y2="112" stroke="#000" stroke-width="1.0"/>
<line x1="191.95" y1="309.8" x2="191.95" y2="301.8" stroke="#000" stroke-width="1.4"/>
<line x1="191.95" y1="108" x2="191.95" y2="116" stroke="#000" stroke-width="1.4"/>
<line x1="216.46" y1="309.8" x2="216.46" y2="305.8" stroke="#000" stroke-width="1.0"/>
<line x1="216.46" y1="108" x2="216.46" y2="112" stroke="#000" stroke-width="1.0"/>
<line x1="240.98" y1="309.8" x2="240.98" y2="305.8" stroke="#000" stroke-width="1.0"/>
<line x1="240.98" y1="108" x2="240.98" y2="112" stroke="#000" stroke-width="1.0"/>
<line x1="265.49" y1="309.8" x2="265.49" y2="305.8" stroke="#000" stroke-width="1.0"/>
<line x1="265.49" y1="108" x2="265.49" y2="112" stroke="#000" stroke-width="1.0"/>
<line x1="290.01" y1="309.8" x2="290.01" y2="305.8" stroke="#000" stroke-width="1.0"/>
<line x1="290.01" y1="108" x2="290.01" y2="112" stroke="#000" stroke-width="1.0"/>
<line x1="314.52" y1="309.8" x2="314.52" y2="301.8" stroke="#000" stroke-width="1.4"/>
<line x1="314.52" y1="108" x2="314.52" y2="116" stroke="#000" stroke-width="1.4"/>
<line x1="339.03" y1="309.8" x2="339.03" y2="305.8" stroke="#000" stroke-width="1.0"/>
<line x1="339.03" y1="108" x2="339.03" y2="112" stroke="#000" stroke-width="1.0"/>
<line x1="363.55" y1="309.8" x2="363.55" y2="305.8" stroke="#000" stroke-width="1.0"/>
<line x1="363.55" y1="108" x2="363.55" y2="112" stroke="#000" stroke-width="1.0"/>
<line x1="388.06" y1="309.8" x2="388.06" y2="305.8" stroke="#000" stroke-width="1.0"/>
<line x1="388.06" y1="108" x2="388.06" y2="112" stroke="#000" stroke-width="1.0"/>
<line x1="412.58" y1="309.8" x2="412.58" y2="305.8" stroke="#000" stroke-width="1.0"/>
<line x1="412.58" y1="108" x2="412.58" y2="112" stroke="#000" stroke-width="1.0"/>
<line x1="437.09" y1="309.8" x2="437.09" y2="301.8" stroke="#000" stroke-width="1.4"/>
<line x1="437.09" y1="108" x2="437.09" y2="116" stroke="#000" stroke-width="1.4"/>
<line x1="461.6" y1="309.8" x2="461.6" y2="305.8" stroke="#000" stroke-width="1.0"/>
<line x1="461.6" y1="108" x2="461.6" y2="112" stroke="#000" stroke-width="1.0"/>
<line x1="486.12" y1="309.8" x2="486.12" y2="305.8" stroke="#000" stroke-width="1.0"/>
<line x1="486.12" y1="108" x2="486.12" y2="112" stroke="#000" stroke-width="1.0"/>
<line x1="510.63" y1="309.8" x2="510.63" y2="305.8" stroke="#000" stroke-width="1.0"/>
<line x1="510.63" y1="108" x2="510.63" y2="112" stroke="#000" stroke-width="1.0"/>
<line x1="535.15" y1="309.8" x2="535.15" y2="305.8" stroke="#000" stroke-width="1.0"/>
<line x1="535.15" y1="108" x2="535.15" y2="112" stroke="#000" stroke-width="1.0"/>
<line x1="559.66" y1="309.8" x2="559.66" y2="301.8" stroke="#000" stroke-width="1.4"/>
<line x1="559.66" y1="108" x2="559.66" y2="116" stroke="#000" stroke-width="1.4"/>
<line x1="584.17" y1="309.8" x2="584.17" y2="305.8" stroke="#000" stroke-width="1.0"/>
<line x1="584.17" y1="108" x2="584.17" y2="112" stroke="#000" stroke-width="1.0"/>
<line x1="608.69" y1="309.8" x2="608.69" y2="305.8" stroke="#000" stroke-width="1.0"/>
<line x1="608.69" y1="108" x2="608.69" y2="112" stroke="#000" stroke-width="1.0"/>
<line x1="633.2" y1="309.8" x2="633.2" y2="305.8" stroke="#000" stroke-width="1.0"/>
<line x1="633.2" y1="108" x2="633.2" y2="112" stroke="#000" stroke-width="1.0"/>
<line x1="657.72" y1="309.8" x2="657.72" y2="305.8" stroke="#000" stroke-width="1.0"/>
<line x1="657.72" y1="108" x2="657.72" y2="112" stroke="#000" stroke-width="1.0"/>
<line x1="682.23" y1="309.8" x2="682.23" y2="301.8" stroke="#000" stroke-width="1.4"/>
<line x1="682.23" y1="108" x2="682.23" y2="116" stroke="#000" stroke-width="1.4"/>
<line x1="706.74" y1="309.8" x2="706.74" y2="305.8" stroke="#000" stroke-width="1.0"/>
<line x1="706.74" y1="108" x2="706.74" y2="112" stroke="#000" stroke-width="1.0"/>
<line x1="731.26" y1="309.8" x2="731.26" y2="305.8" stroke="#000" stroke-width="1.0"/>
<line x1="731.26" y1="108" x2="731.26" y2="112" stroke="#000" stroke-width="1.0"/>
<line x1="755.77" y1="309.8" x2="755.77" y2="305.8" stroke="#000" stroke-width="1.0"/>
<line x1="755.77" y1="108" x2="755.77" y2="112" stroke="#000" stroke-width="1.0"/>
<line x1="780.29" y1="309.8" x2="780.29" y2="305.8" stroke="#000" stroke-width="1.0"/>
<line x1="780.29" y1="108" x2="780.29" y2="112" stroke="#000" stroke-width="1.0"/>
<line x1="804.8" y1="309.8" x2="804.8" y2="301.8" stroke="#000" stroke-width="1.4"/>
<line x1="804.8" y1="108" x2="804.8" y2="116" stroke="#000" stroke-width="1.4"/>
<line x1="93.53" y1="108" x2="93.53" y2="116" stroke="#000" stroke-width="1.4"/>
<line x1="127.1" y1="108" x2="127.1" y2="112" stroke="#000" stroke-width="1.0"/>
<line x1="160.68" y1="108" x2="160.68" y2="112" stroke="#000" stroke-width="1.0"/>
<line x1="194.26" y1="108" x2="194.26" y2="112" stroke="#000" stroke-width="1.0"/>
<line x1="227.83" y1="108" x2="227.83" y2="116" stroke="#000" stroke-width="1.4"/>
<line x1="261.41" y1="108" x2="261.41" y2="112" stroke="#000" stroke-width="1.0"/>
<line x1="294.99" y1="108" x2="294.99" y2="112" stroke="#000" stroke-width="1.0"/>
<line x1="328.56" y1="108" x2="328.56" y2="112" stroke="#000" stroke-width="1.0"/>
<line x1="362.14" y1="108" x2="362.14" y2="116" stroke="#000" stroke-width="1.4"/>
<line x1="395.71" y1="108" x2="395.71" y2="112" stroke="#000" stroke-width="1.0"/>
<line x1="429.29" y1="108" x2="429.29" y2="112" stroke="#000" stroke-width="1.0"/>
<line x1="462.87" y1="108" x2="462.87" y2="112" stroke="#000" stroke-width="1.0"/>
<line x1="496.44" y1="108" x2="496.44" y2="116" stroke="#000" stroke-width="1.4"/>
<line x1="530.02" y1="108" x2="530.02" y2="112" stroke="#000" stroke-width="1.0"/>
<line x1="563.6" y1="108" x2="563.6" y2="112" stroke="#000" stroke-width="1.0"/>
<line x1="597.17" y1="108" x2="597.17" y2="112" stroke="#000" stroke-width="1.0"/>
<line x1="630.75" y1="108" x2="630.75" y2="116" stroke="#000" stroke-width="1.4"/>
<line x1="664.33" y1="108" x2="664.33" y2="112" stroke="#000" stroke-width="1.0"/>
<line x1="697.9" y1="108" x2="697.9" y2="112" stroke="#000" stroke-width="1.0"/>
<line x1="731.48" y1="108" x2="731.48" y2="112" stroke="#000" stroke-width="1.0"/>
<line x1="765.06" y1="108" x2="765.06" y2="116" stroke="#000" stroke-width="1.4"/>
<line x1="798.63" y1="108" x2="798.63" y2="112" stroke="#000" stroke-width="1.0"/>
<line x1="74.6" y1="110.5" x2="78.6" y2="110.5" stroke="#000" stroke-width="1.0"/>
<line x1="820.5" y1="110.5" x2="816.5" y2="110.5" stroke="#000" stroke-width="1.0"/>
<line x1="74.6" y1="120" x2="82.6" y2="120" stroke="#000" stroke-width="1.4"/>
<line x1="820.5" y1="120" x2="812.5" y2="120" stroke="#000" stroke-width="1.4"/>
<line x1="74.6" y1="129.5" x2="78.6" y2="129.5" stroke="#000" stroke-width="1.0"/>
<line x1="820.5" y1="129.5" x2="816.5" y2="129.5" stroke="#000" stroke-width="1.0"/>
<line x1="74.6" y1="138.99" x2="78.6" y2="138.99" stroke="#000" stroke-width="1.0"/>
<line x1="820.5" y1="138.99" x2="816.5" y2="138.99" stroke="#000" stroke-width="1.0"/>
<line x1="74.6" y1="148.49" x2="78.6" y2="148.49" stroke="#000" stroke-width="1.0"/>
<line x1="820.5" y1="148.49" x2="816.5" y2="148.49" stroke="#000" stroke-width="1.0"/>
<line x1="74.6" y1="157.98" x2="78.6" y2="157.98" stroke="#000" stroke-width="1.0"/>
<line x1="820.5" y1="157.98" x2="816.5" y2="157.98" stroke="#000" stroke-width="1.0"/>
<line x1="74.6" y1="167.48" x2="82.6" y2="167.48" stroke="#000" stroke-width="1.4"/>
<line x1="820.5" y1="167.48" x2="812.5" y2="167.48" stroke="#000" stroke-width="1.4"/>
<line x1="74.6" y1="176.98" x2="78.6" y2="176.98" stroke="#000" stroke-width="1.0"/>
<line x1="820.5" y1="176.98" x2="816.5" y2="176.98" stroke="#000" stroke-width="1.0"/>
<line x1="74.6" y1="186.47" x2="78.6" y2="186.47" stroke="#000" stroke-width="1.0"/>
<line x1="820.5" y1="186.47" x2="816.5" y2="186.47" stroke="#000" stroke-width="1.0"/>
<line x1="74.6" y1="195.97" x2="78.6" y2="195.97" stroke="#000" stroke-width="1.0"/>
<line x1="820.5" y1="195.97" x2="816.5" y2="195.97" stroke="#000" stroke-width="1.0"/>
<line x1="74.6" y1="205.46" x2="78.6" y2="205.46" stroke="#000" stroke-width="1.0"/>
<line x1="820.5" y1="205.46" x2="816.5" y2="205.46" stroke="#000" stroke-width="1.0"/>
<line x1="74.6" y1="214.96" x2="82.6" y2="214.96" stroke="#000" stroke-width="1.4"/>
<line x1="820.5" y1="214.96" x2="812.5" y2="214.96" stroke="#000" stroke-width="1.4"/>
<line x1="74.6" y1="224.46" x2="78.6" y2="224.46" stroke="#000" stroke-width="1.0"/>
<line x1="820.5" y1="224.46" x2="816.5" y2="224.46" stroke="#000" stroke-width="1.0"/>
<line x1="74.6" y1="233.95" x2="78.6" y2="233.95" stroke="#000" stroke-width="1.0"/>
<line x1="820.5" y1="233.95" x2="816.5" y2="233.95" stroke="#000" stroke-width="1.0"/>
<line x1="74.6" y1="243.45" x2="78.6" y2="243.45" stroke="#000" stroke-width="1.0"/>
<line x1="820.5" y1="243.45" x2="816.5" y2="243.45" stroke="#000" stroke-width="1.0"/>
<line x1="74.6" y1="252.94" x2="78.6" y2="252.94" stroke="#000" stroke-width="1.0"/>
<line x1="820.5" y1="252.94" x2="816.5" y2="252.94" stroke="#000" stroke-width="1.0"/>
<line x1="74.6" y1="262.44" x2="82.6" y2="262.44" stroke="#000" stroke-width="1.4"/>
<line x1="820.5" y1="262.44" x2="812.5" y2="262.44" stroke="#000" stroke-width="1.4"/>
<line x1="74.6" y1="271.94" x2="78.6" y2="271.94" stroke="#000" stroke-width="1.0"/>
<line x1="820.5" y1="271.94" x2="816.5" y2="271.94" stroke="#000" stroke-width="1.0"/>
<line x1="74.6" y1="281.43" x2="78.6" y2="281.43" stroke="#000" stroke-width="1.0"/>
<line x1="820.5" y1="281.43" x2="816.5" y2="281.43" stroke="#000" stroke-width="1.0"/>
<line x1="74.6" y1="290.93" x2="78.6" y2="290.93" stroke="#000" stroke-width="1.0"/>
<line x1="820.5" y1="290.93" x2="816.5" y2="290.93" stroke="#000" stroke-width="1.0"/>
<line x1="74.6" y1="300.42" x2="78.6" y2="300.42" stroke="#000" stroke-width="1.0"/>
<line x1="820.5" y1="300.42" x2="816.5" y2="300.42" stroke="#000" stroke-width="1.0"/>
<line x1="74.6" y1="309.92" x2="82.6" y2="309.92" stroke="#000" stroke-width="1.4"/>
<line x1="820.5" y1="309.92" x2="812.5" y2="309.92" stroke="#000" stroke-width="1.4"/>
<rect x="74.6" y="108" width="745.9" height="201.8" fill="none" stroke="#000" stroke-width="2.67"/>
<rect x="85.2" y="233.5" width="442" height="66.3" rx="5" ry="5" fill="#fff" fill-opacity="0.8" stroke="#cccccc" stroke-width="1.33"/>
<line x1="112.5" y1="239.4" x2="112.5" y2="259.2" stroke="#2e8b57" stroke-opacity="0.72" stroke-width="1.6"/>
<circle cx="112.5" cy="249.3" r="3.6" fill="#2e8b57" fill-opacity="0.72"/>
<line x1="112.5" y1="269.9" x2="112.5" y2="289.5" stroke="#e06a1b" stroke-opacity="0.8" stroke-width="1.8"/>
<rect x="109" y="276.1" width="7" height="7" fill="#e06a1b" fill-opacity="0.8"/>
<text x="149" y="256.3" font-family="'DejaVu Serif', serif" font-size="20">Gaia G</text>
<text x="149" y="285.8" font-family="'DejaVu Serif', serif" font-size="20" letter-spacing="0.2"><tspan font-family="Liberation Serif, serif" font-style="italic" font-size="22">i</tspan> (SkyMapper, DECam, CTIO, SALT)</text>
<g clip-path="url(#cb)">
<line x1="304.6" y1="552.4" x2="304.6" y2="350.6" stroke="#bdbdbd" stroke-width="1.33" stroke-dasharray="8.53 2.13 1.33 2.13"/>
<line x1="351.25" y1="552.4" x2="351.25" y2="350.6" stroke="#bdbdbd" stroke-width="1.33" stroke-dasharray="8.53 2.13 1.33 2.13"/>
<line x1="397.9" y1="552.4" x2="397.9" y2="350.6" stroke="#bdbdbd" stroke-width="1.33" stroke-dasharray="8.53 2.13 1.33 2.13"/>
<line x1="444.55" y1="552.4" x2="444.55" y2="350.6" stroke="#bdbdbd" stroke-width="1.33" stroke-dasharray="8.53 2.13 1.33 2.13"/>
<line x1="491.2" y1="552.4" x2="491.2" y2="350.6" stroke="#bdbdbd" stroke-width="1.33" stroke-dasharray="8.53 2.13 1.33 2.13"/>
<line x1="537.85" y1="552.4" x2="537.85" y2="350.6" stroke="#bdbdbd" stroke-width="1.33" stroke-dasharray="8.53 2.13 1.33 2.13"/>
<line x1="584.5" y1="552.4" x2="584.5" y2="350.6" stroke="#bdbdbd" stroke-width="1.33" stroke-dasharray="8.53 2.13 1.33 2.13"/>
<line x1="631.15" y1="552.4" x2="631.15" y2="350.6" stroke="#bdbdbd" stroke-width="1.33" stroke-dasharray="8.53 2.13 1.33 2.13"/>
<line x1="677.8" y1="552.4" x2="677.8" y2="350.6" stroke="#bdbdbd" stroke-width="1.33" stroke-dasharray="8.53 2.13 1.33 2.13"/>
<line x1="724.45" y1="552.4" x2="724.45" y2="350.6" stroke="#bdbdbd" stroke-width="1.33" stroke-dasharray="8.53 2.13 1.33 2.13"/>
<line x1="771.1" y1="552.4" x2="771.1" y2="350.6" stroke="#bdbdbd" stroke-width="1.33" stroke-dasharray="8.53 2.13 1.33 2.13"/>
<rect x="570.5" y="350.6" width="4" height="201.8" fill="#cccccc"/>
<path d="M103.9 520L112.7 520L108.3 528.8Z" fill="#2a1000" fill-opacity="0.8" stroke="#2a1000" stroke-opacity="0.8" stroke-width="1.0" stroke-linejoin="miter"/>
<path d="M127 509.7L135.8 509.7L131.4 518.5Z" fill="#2a1000" fill-opacity="0.8" stroke="#2a1000" stroke-opacity="0.8" stroke-width="1.0" stroke-linejoin="miter"/>
<path d="M283.5 512L292.3 512L287.9 520.8Z" fill="#2a1000" fill-opacity="0.8" stroke="#2a1000" stroke-opacity="0.8" stroke-width="1.0" stroke-linejoin="miter"/>
<path d="M306.6 513.6L315.4 513.6L311 522.4Z" fill="#2a1000" fill-opacity="0.8" stroke="#2a1000" stroke-opacity="0.8" stroke-width="1.0" stroke-linejoin="miter"/>
<path d="M327.4 511.7L336.2 511.7L331.8 520.5Z" fill="#2a1000" fill-opacity="0.8" stroke="#2a1000" stroke-opacity="0.8" stroke-width="1.0" stroke-linejoin="miter"/>
<path d="M350.3 514.5L359.1 514.5L354.7 523.3Z" fill="#2a1000" fill-opacity="0.8" stroke="#2a1000" stroke-opacity="0.8" stroke-width="1.0" stroke-linejoin="miter"/>
<path d="M371.1 508.9L379.9 508.9L375.5 517.7Z" fill="#2a1000" fill-opacity="0.8" stroke="#2a1000" stroke-opacity="0.8" stroke-width="1.0" stroke-linejoin="miter"/>
<path d="M397.4 512L406.2 512L401.8 520.8Z" fill="#2a1000" fill-opacity="0.8" stroke="#2a1000" stroke-opacity="0.8" stroke-width="1.0" stroke-linejoin="miter"/>
<path d="M394.2 518.6L403 518.6L398.6 527.4Z" fill="#2a1000" fill-opacity="0.8" stroke="#2a1000" stroke-opacity="0.8" stroke-width="1.0" stroke-linejoin="miter"/>
<path d="M414.4 504.5L423.2 504.5L418.8 513.3Z" fill="#2a1000" fill-opacity="0.8" stroke="#2a1000" stroke-opacity="0.8" stroke-width="1.0" stroke-linejoin="miter"/>
<path d="M440.1 471.2L448.9 471.2L444.5 480Z" fill="#2a1000" fill-opacity="0.8" stroke="#2a1000" stroke-opacity="0.8" stroke-width="1.0" stroke-linejoin="miter"/>
<path d="M458 477.3L466.8 477.3L462.4 486.1Z" fill="#2a1000" fill-opacity="0.8" stroke="#2a1000" stroke-opacity="0.8" stroke-width="1.0" stroke-linejoin="miter"/>
<path d="M483.8 479.2L492.6 479.2L488.2 488Z" fill="#2a1000" fill-opacity="0.8" stroke="#2a1000" stroke-opacity="0.8" stroke-width="1.0" stroke-linejoin="miter"/>
<path d="M103.9 533L112.7 533L108.3 541.8Z" fill="#d03c5c" fill-opacity="0.72" stroke="#d03c5c" stroke-opacity="0.72" stroke-width="1.0" stroke-linejoin="miter"/>
<path d="M127 517.4L135.8 517.4L131.4 526.2Z" fill="#d03c5c" fill-opacity="0.72" stroke="#d03c5c" stroke-opacity="0.72" stroke-width="1.0" stroke-linejoin="miter"/>
<path d="M283.5 523.9L292.3 523.9L287.9 532.7Z" fill="#d03c5c" fill-opacity="0.72" stroke="#d03c5c" stroke-opacity="0.72" stroke-width="1.0" stroke-linejoin="miter"/>
<path d="M306.6 511.5L315.4 511.5L311 520.3Z" fill="#d03c5c" fill-opacity="0.72" stroke="#d03c5c" stroke-opacity="0.72" stroke-width="1.0" stroke-linejoin="miter"/>
<path d="M327.4 518.6L336.2 518.6L331.8 527.4Z" fill="#d03c5c" fill-opacity="0.72" stroke="#d03c5c" stroke-opacity="0.72" stroke-width="1.0" stroke-linejoin="miter"/>
<path d="M350.3 512.4L359.1 512.4L354.7 521.2Z" fill="#d03c5c" fill-opacity="0.72" stroke="#d03c5c" stroke-opacity="0.72" stroke-width="1.0" stroke-linejoin="miter"/>
<path d="M371.1 516.4L379.9 516.4L375.5 525.2Z" fill="#d03c5c" fill-opacity="0.72" stroke="#d03c5c" stroke-opacity="0.72" stroke-width="1.0" stroke-linejoin="miter"/>
<path d="M395.2 507.9L404 507.9L399.6 516.7Z" fill="#d03c5c" fill-opacity="0.72" stroke="#d03c5c" stroke-opacity="0.72" stroke-width="1.0" stroke-linejoin="miter"/>
<path d="M394.2 511.4L403 511.4L398.6 520.2Z" fill="#d03c5c" fill-opacity="0.72" stroke="#d03c5c" stroke-opacity="0.72" stroke-width="1.0" stroke-linejoin="miter"/>
<path d="M414.4 508.9L423.2 508.9L418.8 517.7Z" fill="#d03c5c" fill-opacity="0.72" stroke="#d03c5c" stroke-opacity="0.72" stroke-width="1.0" stroke-linejoin="miter"/>
<path d="M440.1 461.4L448.9 461.4L444.5 470.2Z" fill="#d03c5c" fill-opacity="0.72" stroke="#d03c5c" stroke-opacity="0.72" stroke-width="1.0" stroke-linejoin="miter"/>
<path d="M458 470.4L466.8 470.4L462.4 479.2Z" fill="#d03c5c" fill-opacity="0.72" stroke="#d03c5c" stroke-opacity="0.72" stroke-width="1.0" stroke-linejoin="miter"/>
<path d="M483.8 474.7L492.6 474.7L488.2 483.5Z" fill="#d03c5c" fill-opacity="0.72" stroke="#d03c5c" stroke-opacity="0.72" stroke-width="1.0" stroke-linejoin="miter"/>
<circle cx="508.7" cy="478" r="4.85" fill="#2a1000" fill-opacity="0.07"/>
<circle cx="508.7" cy="446.7" r="4.85" fill="#d03c5c" fill-opacity="0.1"/>
<circle cx="508.7" cy="472.5" r="4.85" fill="#d03c5c" fill-opacity="0.1"/>
<circle cx="508.7" cy="476.8" r="4.85" fill="#d03c5c" fill-opacity="0.1"/>
<circle cx="533.9" cy="463.9" r="4.85" fill="#2a1000" fill-opacity="0.07"/>
<circle cx="533.9" cy="485.5" r="4.85" fill="#2a1000" fill-opacity="0.07"/>
<circle cx="533.9" cy="435.4" r="4.85" fill="#d03c5c" fill-opacity="0.1"/>
<circle cx="553.3" cy="419.6" r="4.85" fill="#2a1000" fill-opacity="0.07"/>
<circle cx="553.3" cy="432" r="4.85" fill="#2a1000" fill-opacity="0.07"/>
<circle cx="553.3" cy="380.8" r="4.85" fill="#d03c5c" fill-opacity="0.1"/>
<circle cx="553.3" cy="394.6" r="4.85" fill="#d03c5c" fill-opacity="0.1"/>
<circle cx="553.3" cy="437.6" r="4.85" fill="#d03c5c" fill-opacity="0.1"/>
<circle cx="578.8" cy="411.2" r="4.85" fill="#2a1000" fill-opacity="0.07"/>
<circle cx="578.8" cy="432" r="4.85" fill="#2a1000" fill-opacity="0.07"/>
<circle cx="578.8" cy="439.6" r="4.85" fill="#2a1000" fill-opacity="0.07"/>
<circle cx="578.8" cy="389" r="4.85" fill="#d03c5c" fill-opacity="0.1"/>
<circle cx="578.8" cy="400.2" r="4.85" fill="#d03c5c" fill-opacity="0.1"/>
<circle cx="597.9" cy="414.9" r="4.85" fill="#2a1000" fill-opacity="0.07"/>
<circle cx="597.9" cy="433.9" r="4.85" fill="#2a1000" fill-opacity="0.07"/>
<circle cx="597.9" cy="443.4" r="4.85" fill="#2a1000" fill-opacity="0.07"/>
<circle cx="597.9" cy="367.4" r="4.85" fill="#d03c5c" fill-opacity="0.1"/>
<circle cx="597.9" cy="385.7" r="4.85" fill="#d03c5c" fill-opacity="0.1"/>
<circle cx="597.9" cy="390.1" r="4.85" fill="#d03c5c" fill-opacity="0.1"/>
<circle cx="623.7" cy="417.8" r="4.85" fill="#2a1000" fill-opacity="0.07"/>
<circle cx="623.7" cy="441.2" r="4.85" fill="#2a1000" fill-opacity="0.07"/>
<circle cx="623.7" cy="445.6" r="4.85" fill="#2a1000" fill-opacity="0.07"/>
<circle cx="623.7" cy="368.1" r="4.85" fill="#d03c5c" fill-opacity="0.1"/>
<circle cx="623.7" cy="387.9" r="4.85" fill="#d03c5c" fill-opacity="0.1"/>
<circle cx="643" cy="414.2" r="4.85" fill="#2a1000" fill-opacity="0.07"/>
<circle cx="643" cy="442.7" r="4.85" fill="#2a1000" fill-opacity="0.07"/>
<circle cx="643" cy="367.4" r="4.85" fill="#d03c5c" fill-opacity="0.1"/>
<circle cx="643" cy="398.1" r="4.85" fill="#d03c5c" fill-opacity="0.1"/>
<circle cx="668" cy="422.2" r="4.85" fill="#2a1000" fill-opacity="0.07"/>
<circle cx="668" cy="425.1" r="4.85" fill="#2a1000" fill-opacity="0.07"/>
<circle cx="668" cy="360.8" r="4.85" fill="#d03c5c" fill-opacity="0.1"/>
<circle cx="668" cy="379.8" r="4.85" fill="#d03c5c" fill-opacity="0.1"/>
<circle cx="687.8" cy="385.1" r="4.85" fill="#2a1000" fill-opacity="0.07"/>
<circle cx="687.8" cy="418" r="4.85" fill="#2a1000" fill-opacity="0.07"/>
<circle cx="687.8" cy="428.2" r="4.85" fill="#2a1000" fill-opacity="0.07"/>
<circle cx="687.8" cy="359.5" r="4.85" fill="#d03c5c" fill-opacity="0.1"/>
<circle cx="687.8" cy="376.3" r="4.85" fill="#d03c5c" fill-opacity="0.1"/>
<circle cx="687.8" cy="393.1" r="4.85" fill="#d03c5c" fill-opacity="0.1"/>
<circle cx="713.1" cy="412.1" r="4.85" fill="#2a1000" fill-opacity="0.07"/>
<circle cx="713.1" cy="429.6" r="4.85" fill="#2a1000" fill-opacity="0.07"/>
<circle cx="713.1" cy="437.7" r="4.85" fill="#2a1000" fill-opacity="0.07"/>
<circle cx="713.1" cy="366.1" r="4.85" fill="#d03c5c" fill-opacity="0.1"/>
<circle cx="713.1" cy="377.8" r="4.85" fill="#d03c5c" fill-opacity="0.1"/>
<circle cx="713.1" cy="389.5" r="4.85" fill="#d03c5c" fill-opacity="0.1"/>
<circle cx="713.1" cy="396" r="4.85" fill="#d03c5c" fill-opacity="0.1"/>
<circle cx="732.1" cy="423" r="4.85" fill="#2a1000" fill-opacity="0.07"/>
<circle cx="732.1" cy="431.8" r="4.85" fill="#2a1000" fill-opacity="0.07"/>
<circle cx="732.1" cy="357.3" r="4.85" fill="#d03c5c" fill-opacity="0.1"/>
<circle cx="732.1" cy="363.2" r="4.85" fill="#d03c5c" fill-opacity="0.1"/>
<circle cx="732.1" cy="378.5" r="4.85" fill="#d03c5c" fill-opacity="0.1"/>
<circle cx="508.7" cy="463.4" r="4.35" fill="#2a1000" fill-opacity="0.92" stroke="#2a1000" stroke-opacity="0.92" stroke-width="1.0"/>
<circle cx="508.7" cy="466.1" r="4.35" fill="#2a1000" fill-opacity="0.92" stroke="#2a1000" stroke-opacity="0.92" stroke-width="1.0"/>
<circle cx="508.7" cy="487.5" r="4.35" fill="#2a1000" fill-opacity="0.86" stroke="#2a1000" stroke-opacity="0.86" stroke-width="1.0"/>
<line x1="533.9" y1="443.5" x2="533.9" y2="454.8" stroke="#2a1000" stroke-opacity="0.92" stroke-width="1.8"/>
<circle cx="533.9" cy="450.5" r="4.35" fill="#2a1000" fill-opacity="0.92" stroke="#2a1000" stroke-opacity="0.92" stroke-width="1.0"/>
<circle cx="533.9" cy="454.8" r="4.35" fill="#2a1000" fill-opacity="0.92" stroke="#2a1000" stroke-opacity="0.92" stroke-width="1.0"/>
<line x1="553.3" y1="409" x2="553.3" y2="418.2" stroke="#2a1000" stroke-opacity="0.92" stroke-width="1.8"/>
<circle cx="553.3" cy="409" r="4.35" fill="#2a1000" fill-opacity="0.92" stroke="#2a1000" stroke-opacity="0.92" stroke-width="1.0"/>
<circle cx="553.3" cy="412" r="4.35" fill="#2a1000" fill-opacity="0.92" stroke="#2a1000" stroke-opacity="0.92" stroke-width="1.0"/>
<line x1="578.8" y1="414.7" x2="578.8" y2="423.7" stroke="#2a1000" stroke-opacity="0.92" stroke-width="1.8"/>
<circle cx="578.8" cy="421" r="4.35" fill="#2a1000" fill-opacity="0.92" stroke="#2a1000" stroke-opacity="0.92" stroke-width="1.0"/>
<circle cx="578.8" cy="423.7" r="4.35" fill="#2a1000" fill-opacity="0.92" stroke="#2a1000" stroke-opacity="0.92" stroke-width="1.0"/>
<line x1="597.9" y1="412.7" x2="597.9" y2="428.8" stroke="#2a1000" stroke-opacity="0.92" stroke-width="1.8"/>
<circle cx="597.9" cy="420.8" r="4.35" fill="#2a1000" fill-opacity="0.92" stroke="#2a1000" stroke-opacity="0.92" stroke-width="1.0"/>
<line x1="623.7" y1="415.6" x2="623.7" y2="436.1" stroke="#2a1000" stroke-opacity="0.92" stroke-width="1.8"/>
<circle cx="623.7" cy="425.9" r="4.35" fill="#2a1000" fill-opacity="0.92" stroke="#2a1000" stroke-opacity="0.92" stroke-width="1.0"/>
<line x1="643" y1="421.5" x2="643" y2="441.2" stroke="#2a1000" stroke-opacity="0.92" stroke-width="1.8"/>
<circle cx="643" cy="421.5" r="4.35" fill="#2a1000" fill-opacity="0.92" stroke="#2a1000" stroke-opacity="0.92" stroke-width="1.0"/>
<circle cx="643" cy="431" r="4.35" fill="#2a1000" fill-opacity="0.92" stroke="#2a1000" stroke-opacity="0.92" stroke-width="1.0"/>
<circle cx="668" cy="414.6" r="4.35" fill="#2a1000" fill-opacity="0.92" stroke="#2a1000" stroke-opacity="0.92" stroke-width="1.0"/>
<line x1="687.8" y1="402.6" x2="687.8" y2="418.7" stroke="#2a1000" stroke-opacity="0.92" stroke-width="1.8"/>
<circle cx="687.8" cy="409.9" r="4.35" fill="#2a1000" fill-opacity="0.92" stroke="#2a1000" stroke-opacity="0.92" stroke-width="1.0"/>
<line x1="713.1" y1="413.6" x2="713.1" y2="424.5" stroke="#2a1000" stroke-opacity="0.92" stroke-width="1.8"/>
<circle cx="713.1" cy="417.3" r="4.35" fill="#2a1000" fill-opacity="0.92" stroke="#2a1000" stroke-opacity="0.92" stroke-width="1.0"/>
<circle cx="713.1" cy="419.8" r="4.35" fill="#2a1000" fill-opacity="0.92" stroke="#2a1000" stroke-opacity="0.92" stroke-width="1.0"/>
<line x1="732.1" y1="407" x2="732.1" y2="417.2" stroke="#2a1000" stroke-opacity="0.92" stroke-width="1.8"/>
<circle cx="732.1" cy="412.1" r="4.35" fill="#2a1000" fill-opacity="0.92" stroke="#2a1000" stroke-opacity="0.92" stroke-width="1.0"/>
<line x1="508.7" y1="448.3" x2="508.7" y2="456.4" stroke="#d03c5c" stroke-opacity="0.85" stroke-width="1.8"/>
<circle cx="508.7" cy="453.8" r="4.35" fill="#d03c5c" fill-opacity="0.85" stroke="#d03c5c" stroke-opacity="0.85" stroke-width="1.0"/>
<circle cx="508.7" cy="456.4" r="4.35" fill="#d03c5c" fill-opacity="0.85" stroke="#d03c5c" stroke-opacity="0.85" stroke-width="1.0"/>
<circle cx="533.9" cy="415.6" r="4.35" fill="#d03c5c" fill-opacity="0.85" stroke="#d03c5c" stroke-opacity="0.85" stroke-width="1.0"/>
<circle cx="533.9" cy="424.6" r="4.35" fill="#d03c5c" fill-opacity="0.85" stroke="#d03c5c" stroke-opacity="0.85" stroke-width="1.0"/>
<line x1="553.3" y1="373.9" x2="553.3" y2="400.2" stroke="#d03c5c" stroke-opacity="0.85" stroke-width="1.8"/>
<circle cx="553.3" cy="373.9" r="4.35" fill="#d03c5c" fill-opacity="0.85" stroke="#d03c5c" stroke-opacity="0.85" stroke-width="1.0"/>
<circle cx="553.3" cy="387.7" r="4.35" fill="#d03c5c" fill-opacity="0.85" stroke="#d03c5c" stroke-opacity="0.85" stroke-width="1.0"/>
<line x1="578.8" y1="366.9" x2="578.8" y2="384.9" stroke="#d03c5c" stroke-opacity="0.85" stroke-width="1.8"/>
<circle cx="578.8" cy="373.3" r="4.35" fill="#d03c5c" fill-opacity="0.85" stroke="#d03c5c" stroke-opacity="0.85" stroke-width="1.0"/>
<circle cx="578.8" cy="376.3" r="4.35" fill="#d03c5c" fill-opacity="0.85" stroke="#d03c5c" stroke-opacity="0.85" stroke-width="1.0"/>
<line x1="597.9" y1="369.6" x2="597.9" y2="382.8" stroke="#d03c5c" stroke-opacity="0.85" stroke-width="1.8"/>
<circle cx="597.9" cy="376.2" r="4.35" fill="#d03c5c" fill-opacity="0.85" stroke="#d03c5c" stroke-opacity="0.85" stroke-width="1.0"/>
<line x1="623.7" y1="371" x2="623.7" y2="383.5" stroke="#d03c5c" stroke-opacity="0.85" stroke-width="1.8"/>
<circle cx="623.7" cy="376.2" r="4.35" fill="#d03c5c" fill-opacity="0.85" stroke="#d03c5c" stroke-opacity="0.85" stroke-width="1.0"/>
<line x1="643" y1="357.9" x2="643" y2="393.7" stroke="#d03c5c" stroke-opacity="0.85" stroke-width="1.8"/>
<circle cx="643" cy="374" r="4.35" fill="#d03c5c" fill-opacity="0.85" stroke="#d03c5c" stroke-opacity="0.85" stroke-width="1.0"/>
<circle cx="643" cy="376.2" r="4.35" fill="#d03c5c" fill-opacity="0.85" stroke="#d03c5c" stroke-opacity="0.85" stroke-width="1.0"/>
<circle cx="668" cy="367.4" r="4.35" fill="#d03c5c" fill-opacity="0.85" stroke="#d03c5c" stroke-opacity="0.85" stroke-width="1.0"/>
<line x1="687.8" y1="361" x2="687.8" y2="374.1" stroke="#d03c5c" stroke-opacity="0.85" stroke-width="1.8"/>
<circle cx="687.8" cy="367.5" r="4.35" fill="#d03c5c" fill-opacity="0.85" stroke="#d03c5c" stroke-opacity="0.85" stroke-width="1.0"/>
<line x1="713.1" y1="364.6" x2="713.1" y2="380.7" stroke="#d03c5c" stroke-opacity="0.85" stroke-width="1.8"/>
<circle cx="713.1" cy="371.9" r="4.35" fill="#d03c5c" fill-opacity="0.85" stroke="#d03c5c" stroke-opacity="0.85" stroke-width="1.0"/>
<line x1="732.1" y1="365.3" x2="732.1" y2="375.6" stroke="#d03c5c" stroke-opacity="0.85" stroke-width="1.8"/>
<circle cx="732.1" cy="370.5" r="4.35" fill="#d03c5c" fill-opacity="0.85" stroke="#d03c5c" stroke-opacity="0.85" stroke-width="1.0"/>
<line x1="780.1" y1="367.8" x2="780.1" y2="425.4" stroke="#4040ff" stroke-opacity="0.7" stroke-width="1.6"/>
<rect x="775.25" y="391.75" width="9.7" height="9.7" fill="#4040ff" fill-opacity="0.7"/>
</g>
<line x1="93.89" y1="552.4" x2="93.89" y2="548.4" stroke="#000" stroke-width="1.0"/>
<line x1="93.89" y1="350.6" x2="93.89" y2="354.6" stroke="#000" stroke-width="1.0"/>
<line x1="118.41" y1="552.4" x2="118.41" y2="548.4" stroke="#000" stroke-width="1.0"/>
<line x1="118.41" y1="350.6" x2="118.41" y2="354.6" stroke="#000" stroke-width="1.0"/>
<line x1="142.92" y1="552.4" x2="142.92" y2="548.4" stroke="#000" stroke-width="1.0"/>
<line x1="142.92" y1="350.6" x2="142.92" y2="354.6" stroke="#000" stroke-width="1.0"/>
<line x1="167.44" y1="552.4" x2="167.44" y2="548.4" stroke="#000" stroke-width="1.0"/>
<line x1="167.44" y1="350.6" x2="167.44" y2="354.6" stroke="#000" stroke-width="1.0"/>
<line x1="191.95" y1="552.4" x2="191.95" y2="544.4" stroke="#000" stroke-width="1.4"/>
<line x1="191.95" y1="350.6" x2="191.95" y2="358.6" stroke="#000" stroke-width="1.4"/>
<line x1="216.46" y1="552.4" x2="216.46" y2="548.4" stroke="#000" stroke-width="1.0"/>
<line x1="216.46" y1="350.6" x2="216.46" y2="354.6" stroke="#000" stroke-width="1.0"/>
<line x1="240.98" y1="552.4" x2="240.98" y2="548.4" stroke="#000" stroke-width="1.0"/>
<line x1="240.98" y1="350.6" x2="240.98" y2="354.6" stroke="#000" stroke-width="1.0"/>
<line x1="265.49" y1="552.4" x2="265.49" y2="548.4" stroke="#000" stroke-width="1.0"/>
<line x1="265.49" y1="350.6" x2="265.49" y2="354.6" stroke="#000" stroke-width="1.0"/>
<line x1="290.01" y1="552.4" x2="290.01" y2="548.4" stroke="#000" stroke-width="1.0"/>
<line x1="290.01" y1="350.6" x2="290.01" y2="354.6" stroke="#000" stroke-width="1.0"/>
<line x1="314.52" y1="552.4" x2="314.52" y2="544.4" stroke="#000" stroke-width="1.4"/>
<line x1="314.52" y1="350.6" x2="314.52" y2="358.6" stroke="#000" stroke-width="1.4"/>
<line x1="339.03" y1="552.4" x2="339.03" y2="548.4" stroke="#000" stroke-width="1.0"/>
<line x1="339.03" y1="350.6" x2="339.03" y2="354.6" stroke="#000" stroke-width="1.0"/>
<line x1="363.55" y1="552.4" x2="363.55" y2="548.4" stroke="#000" stroke-width="1.0"/>
<line x1="363.55" y1="350.6" x2="363.55" y2="354.6" stroke="#000" stroke-width="1.0"/>
<line x1="388.06" y1="552.4" x2="388.06" y2="548.4" stroke="#000" stroke-width="1.0"/>
<line x1="388.06" y1="350.6" x2="388.06" y2="354.6" stroke="#000" stroke-width="1.0"/>
<line x1="412.58" y1="552.4" x2="412.58" y2="548.4" stroke="#000" stroke-width="1.0"/>
<line x1="412.58" y1="350.6" x2="412.58" y2="354.6" stroke="#000" stroke-width="1.0"/>
<line x1="437.09" y1="552.4" x2="437.09" y2="544.4" stroke="#000" stroke-width="1.4"/>
<line x1="437.09" y1="350.6" x2="437.09" y2="358.6" stroke="#000" stroke-width="1.4"/>
<line x1="461.6" y1="552.4" x2="461.6" y2="548.4" stroke="#000" stroke-width="1.0"/>
<line x1="461.6" y1="350.6" x2="461.6" y2="354.6" stroke="#000" stroke-width="1.0"/>
<line x1="486.12" y1="552.4" x2="486.12" y2="548.4" stroke="#000" stroke-width="1.0"/>
<line x1="486.12" y1="350.6" x2="486.12" y2="354.6" stroke="#000" stroke-width="1.0"/>
<line x1="510.63" y1="552.4" x2="510.63" y2="548.4" stroke="#000" stroke-width="1.0"/>
<line x1="510.63" y1="350.6" x2="510.63" y2="354.6" stroke="#000" stroke-width="1.0"/>
<line x1="535.15" y1="552.4" x2="535.15" y2="548.4" stroke="#000" stroke-width="1.0"/>
<line x1="535.15" y1="350.6" x2="535.15" y2="354.6" stroke="#000" stroke-width="1.0"/>
<line x1="559.66" y1="552.4" x2="559.66" y2="544.4" stroke="#000" stroke-width="1.4"/>
<line x1="559.66" y1="350.6" x2="559.66" y2="358.6" stroke="#000" stroke-width="1.4"/>
<line x1="584.17" y1="552.4" x2="584.17" y2="548.4" stroke="#000" stroke-width="1.0"/>
<line x1="584.17" y1="350.6" x2="584.17" y2="354.6" stroke="#000" stroke-width="1.0"/>
<line x1="608.69" y1="552.4" x2="608.69" y2="548.4" stroke="#000" stroke-width="1.0"/>
<line x1="608.69" y1="350.6" x2="608.69" y2="354.6" stroke="#000" stroke-width="1.0"/>
<line x1="633.2" y1="552.4" x2="633.2" y2="548.4" stroke="#000" stroke-width="1.0"/>
<line x1="633.2" y1="350.6" x2="633.2" y2="354.6" stroke="#000" stroke-width="1.0"/>
<line x1="657.72" y1="552.4" x2="657.72" y2="548.4" stroke="#000" stroke-width="1.0"/>
<line x1="657.72" y1="350.6" x2="657.72" y2="354.6" stroke="#000" stroke-width="1.0"/>
<line x1="682.23" y1="552.4" x2="682.23" y2="544.4" stroke="#000" stroke-width="1.4"/>
<line x1="682.23" y1="350.6" x2="682.23" y2="358.6" stroke="#000" stroke-width="1.4"/>
<line x1="706.74" y1="552.4" x2="706.74" y2="548.4" stroke="#000" stroke-width="1.0"/>
<line x1="706.74" y1="350.6" x2="706.74" y2="354.6" stroke="#000" stroke-width="1.0"/>
<line x1="731.26" y1="552.4" x2="731.26" y2="548.4" stroke="#000" stroke-width="1.0"/>
<line x1="731.26" y1="350.6" x2="731.26" y2="354.6" stroke="#000" stroke-width="1.0"/>
<line x1="755.77" y1="552.4" x2="755.77" y2="548.4" stroke="#000" stroke-width="1.0"/>
<line x1="755.77" y1="350.6" x2="755.77" y2="354.6" stroke="#000" stroke-width="1.0"/>
<line x1="780.29" y1="552.4" x2="780.29" y2="548.4" stroke="#000" stroke-width="1.0"/>
<line x1="780.29" y1="350.6" x2="780.29" y2="354.6" stroke="#000" stroke-width="1.0"/>
<line x1="804.8" y1="552.4" x2="804.8" y2="544.4" stroke="#000" stroke-width="1.4"/>
<line x1="804.8" y1="350.6" x2="804.8" y2="358.6" stroke="#000" stroke-width="1.4"/>
<line x1="74.6" y1="350.6" x2="82.6" y2="350.6" stroke="#000" stroke-width="1.4"/>
<line x1="820.5" y1="350.6" x2="812.5" y2="350.6" stroke="#000" stroke-width="1.4"/>
<line x1="74.6" y1="362.13" x2="78.6" y2="362.13" stroke="#000" stroke-width="1.0"/>
<line x1="820.5" y1="362.13" x2="816.5" y2="362.13" stroke="#000" stroke-width="1.0"/>
<line x1="74.6" y1="373.66" x2="78.6" y2="373.66" stroke="#000" stroke-width="1.0"/>
<line x1="820.5" y1="373.66" x2="816.5" y2="373.66" stroke="#000" stroke-width="1.0"/>
<line x1="74.6" y1="385.2" x2="78.6" y2="385.2" stroke="#000" stroke-width="1.0"/>
<line x1="820.5" y1="385.2" x2="816.5" y2="385.2" stroke="#000" stroke-width="1.0"/>
<line x1="74.6" y1="396.73" x2="78.6" y2="396.73" stroke="#000" stroke-width="1.0"/>
<line x1="820.5" y1="396.73" x2="816.5" y2="396.73" stroke="#000" stroke-width="1.0"/>
<line x1="74.6" y1="408.26" x2="82.6" y2="408.26" stroke="#000" stroke-width="1.4"/>
<line x1="820.5" y1="408.26" x2="812.5" y2="408.26" stroke="#000" stroke-width="1.4"/>
<line x1="74.6" y1="419.79" x2="78.6" y2="419.79" stroke="#000" stroke-width="1.0"/>
<line x1="820.5" y1="419.79" x2="816.5" y2="419.79" stroke="#000" stroke-width="1.0"/>
<line x1="74.6" y1="431.32" x2="78.6" y2="431.32" stroke="#000" stroke-width="1.0"/>
<line x1="820.5" y1="431.32" x2="816.5" y2="431.32" stroke="#000" stroke-width="1.0"/>
<line x1="74.6" y1="442.86" x2="78.6" y2="442.86" stroke="#000" stroke-width="1.0"/>
<line x1="820.5" y1="442.86" x2="816.5" y2="442.86" stroke="#000" stroke-width="1.0"/>
<line x1="74.6" y1="454.39" x2="78.6" y2="454.39" stroke="#000" stroke-width="1.0"/>
<line x1="820.5" y1="454.39" x2="816.5" y2="454.39" stroke="#000" stroke-width="1.0"/>
<line x1="74.6" y1="465.92" x2="82.6" y2="465.92" stroke="#000" stroke-width="1.4"/>
<line x1="820.5" y1="465.92" x2="812.5" y2="465.92" stroke="#000" stroke-width="1.4"/>
<line x1="74.6" y1="477.45" x2="78.6" y2="477.45" stroke="#000" stroke-width="1.0"/>
<line x1="820.5" y1="477.45" x2="816.5" y2="477.45" stroke="#000" stroke-width="1.0"/>
<line x1="74.6" y1="488.98" x2="78.6" y2="488.98" stroke="#000" stroke-width="1.0"/>
<line x1="820.5" y1="488.98" x2="816.5" y2="488.98" stroke="#000" stroke-width="1.0"/>
<line x1="74.6" y1="500.52" x2="78.6" y2="500.52" stroke="#000" stroke-width="1.0"/>
<line x1="820.5" y1="500.52" x2="816.5" y2="500.52" stroke="#000" stroke-width="1.0"/>
<line x1="74.6" y1="512.05" x2="78.6" y2="512.05" stroke="#000" stroke-width="1.0"/>
<line x1="820.5" y1="512.05" x2="816.5" y2="512.05" stroke="#000" stroke-width="1.0"/>
<line x1="74.6" y1="523.58" x2="82.6" y2="523.58" stroke="#000" stroke-width="1.4"/>
<line x1="820.5" y1="523.58" x2="812.5" y2="523.58" stroke="#000" stroke-width="1.4"/>
<line x1="74.6" y1="535.11" x2="78.6" y2="535.11" stroke="#000" stroke-width="1.0"/>
<line x1="820.5" y1="535.11" x2="816.5" y2="535.11" stroke="#000" stroke-width="1.0"/>
<line x1="74.6" y1="546.64" x2="78.6" y2="546.64" stroke="#000" stroke-width="1.0"/>
<line x1="820.5" y1="546.64" x2="816.5" y2="546.64" stroke="#000" stroke-width="1.0"/>
<rect x="74.6" y="350.6" width="745.9" height="201.8" fill="none" stroke="#000" stroke-width="2.67"/>
<rect x="85.5" y="361.4" width="276" height="68.4" rx="5" ry="5" fill="#fff" fill-opacity="0.8" stroke="#cccccc" stroke-width="1.33"/>
<line x1="115" y1="367.9" x2="115" y2="388.8" stroke="#2a1000" stroke-opacity="0.92" stroke-width="1.8"/>
<circle cx="115" cy="378.5" r="4.6" fill="#2a1000" fill-opacity="0.78"/>
<line x1="282.4" y1="368.2" x2="282.4" y2="388.8" stroke="#d03c5c" stroke-opacity="0.85" stroke-width="1.8"/>
<circle cx="282.4" cy="378.2" r="4.6" fill="#d03c5c" fill-opacity="0.85"/>
<line x1="115.3" y1="399.2" x2="115.3" y2="420.1" stroke="#4040ff" stroke-opacity="0.7" stroke-width="1.6"/>
<rect x="111" y="405.6" width="8.6" height="8.6" fill="#4040ff" fill-opacity="0.7"/>
<text x="153.8" y="385.6" font-family="Liberation Serif, serif" font-size="24.5">W</text><text x="175.6" y="389.2" font-family="'DejaVu Serif', serif" font-size="13.5">1</text>
<text x="321.2" y="385.6" font-family="Liberation Serif, serif" font-size="24.5">W</text><text x="343.0" y="388.8" font-family="'DejaVu Serif', serif" font-size="13.5">2</text>
<text x="153.2" y="417.0" font-family="'DejaVu Serif', serif" font-size="21.5">SPHEREx</text>
<text x="69.7" y="127.2" text-anchor="end" font-family="'DejaVu Serif', serif" font-size="20">18</text>
<text x="69.7" y="174.68" text-anchor="end" font-family="'DejaVu Serif', serif" font-size="20">19</text>
<text x="69.7" y="222.16" text-anchor="end" font-family="'DejaVu Serif', serif" font-size="20">20</text>
<text x="69.7" y="269.64" text-anchor="end" font-family="'DejaVu Serif', serif" font-size="20">21</text>
<text x="69.7" y="357.8" text-anchor="end" font-family="'DejaVu Serif', serif" font-size="20">12</text>
<text x="69.7" y="415.46" text-anchor="end" font-family="'DejaVu Serif', serif" font-size="20">13</text>
<text x="69.7" y="473.12" text-anchor="end" font-family="'DejaVu Serif', serif" font-size="20">14</text>
<text x="69.7" y="530.78" text-anchor="end" font-family="'DejaVu Serif', serif" font-size="20">15</text>
<text x="191.95" y="573.2" text-anchor="middle" font-family="'DejaVu Serif', serif" font-size="20">56000</text>
<text x="314.52" y="573.2" text-anchor="middle" font-family="'DejaVu Serif', serif" font-size="20">57000</text>
<text x="437.09" y="573.2" text-anchor="middle" font-family="'DejaVu Serif', serif" font-size="20">58000</text>
<text x="559.66" y="573.2" text-anchor="middle" font-family="'DejaVu Serif', serif" font-size="20">59000</text>
<text x="682.23" y="573.2" text-anchor="middle" font-family="'DejaVu Serif', serif" font-size="20">60000</text>
<text x="804.8" y="573.2" text-anchor="middle" font-family="'DejaVu Serif', serif" font-size="20">61000</text>
<text x="92.93" y="91" text-anchor="middle" font-family="'DejaVu Serif', serif" font-size="20" transform="rotate(-20 92.93 83.7)">2010</text>
<text x="227.23" y="91" text-anchor="middle" font-family="'DejaVu Serif', serif" font-size="20" transform="rotate(-20 227.23 83.7)">2013</text>
<text x="361.54" y="91" text-anchor="middle" font-family="'DejaVu Serif', serif" font-size="20" transform="rotate(-20 361.54 83.7)">2016</text>
<text x="495.84" y="91" text-anchor="middle" font-family="'DejaVu Serif', serif" font-size="20" transform="rotate(-20 495.84 83.7)">2019</text>
<text x="630.15" y="91" text-anchor="middle" font-family="'DejaVu Serif', serif" font-size="20" transform="rotate(-20 630.15 83.7)">2022</text>
<text x="764.46" y="91" text-anchor="middle" font-family="'DejaVu Serif', serif" font-size="20" transform="rotate(-20 764.46 83.7)">2025</text>
<text x="447.5" y="62.1" text-anchor="middle" font-family="'DejaVu Serif', serif" font-size="26.8">Year</text>
<text x="447" y="601.8" text-anchor="middle" font-family="'DejaVu Serif', serif" font-size="26.8">Time [MJD]</text>
<text x="33" y="208.7" text-anchor="middle" font-family="'DejaVu Serif', serif" font-size="26.67" transform="rotate(-90 33 208.7)">Magnitude</text>
<text x="33" y="451.1" text-anchor="middle" font-family="'DejaVu Serif', serif" font-size="26.67" transform="rotate(-90 33 451.1)">Magnitude</text>
</svg>
</body></html>
